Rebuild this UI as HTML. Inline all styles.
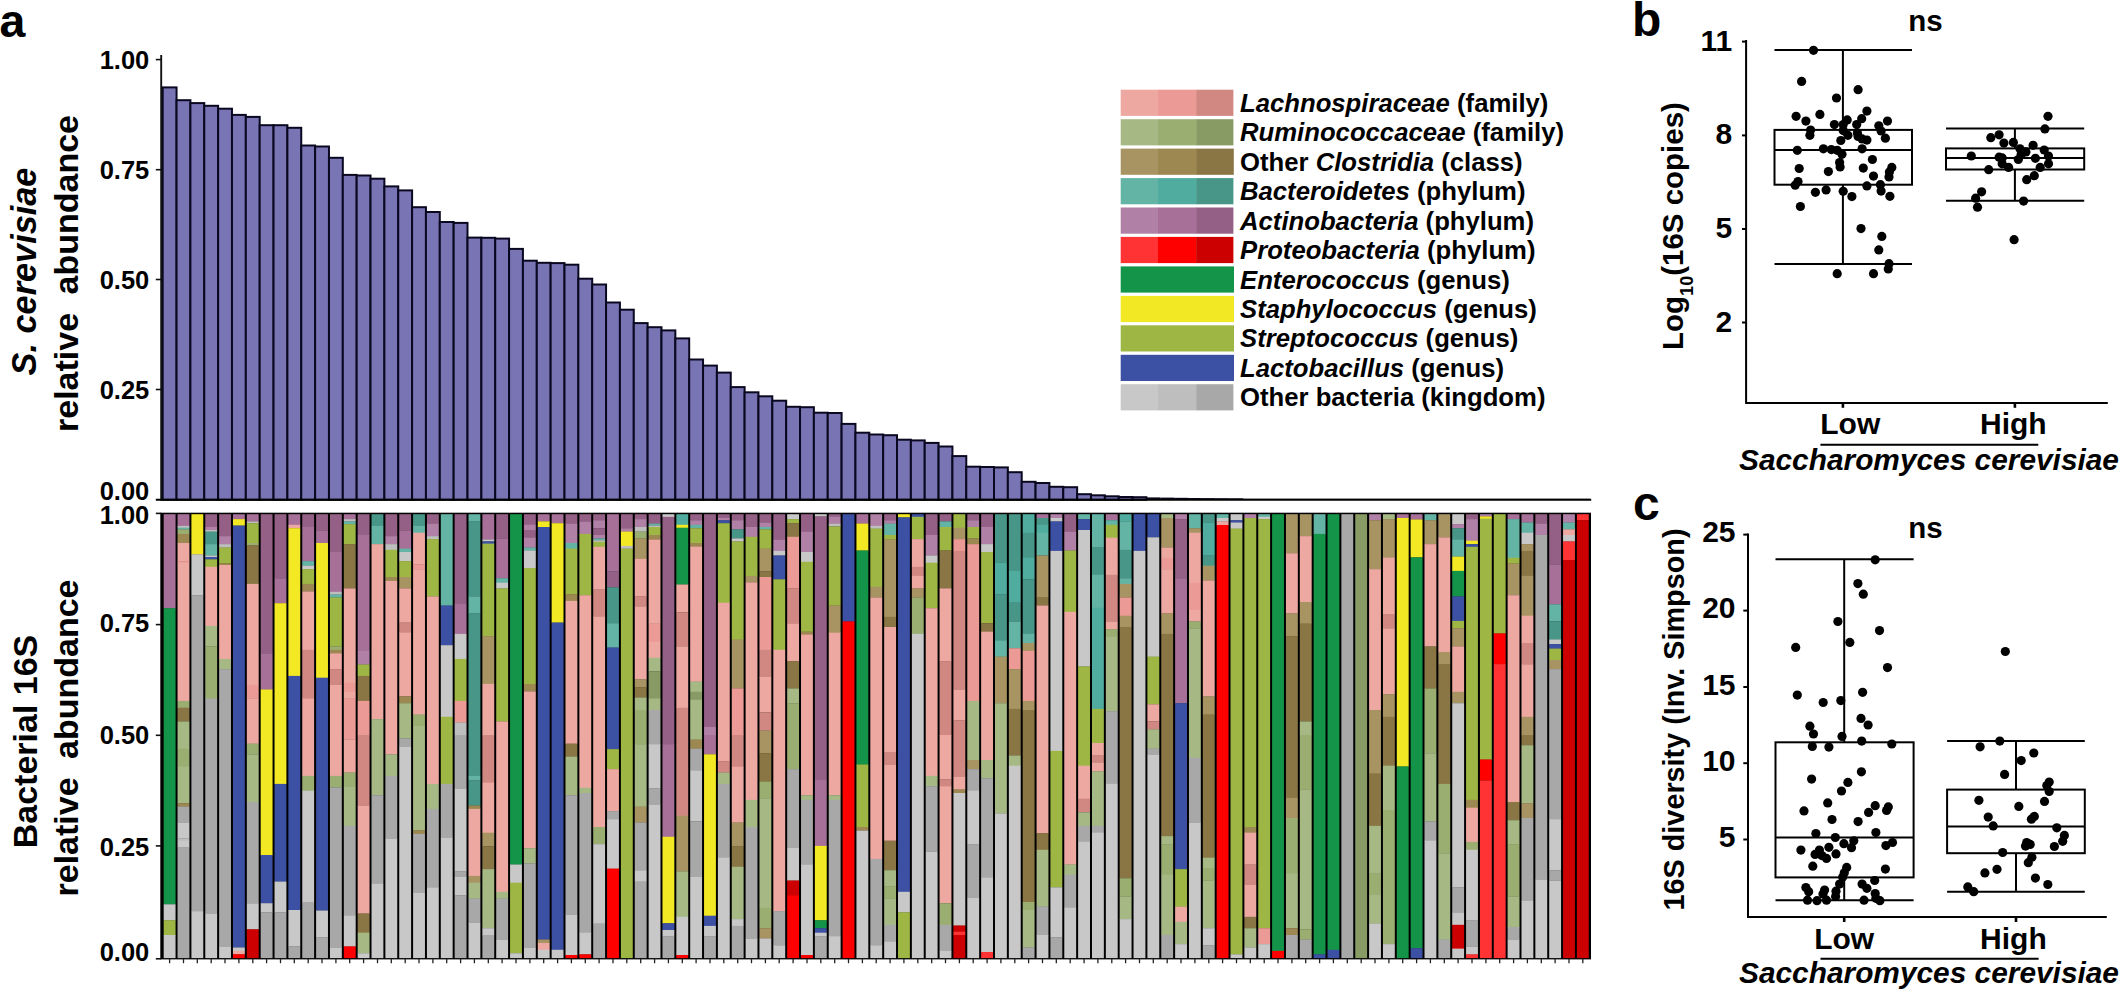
<!DOCTYPE html>
<html><head><meta charset="utf-8"><title>Figure</title>
<style>html,body{margin:0;padding:0;background:#fff}svg{display:block}</style></head>
<body>
<svg width="2119" height="990" viewBox="0 0 2119 990" font-family="Liberation Sans, Arial, sans-serif" font-weight="bold" fill="#000">
<rect width="2119" height="990" fill="#fff"/>
<g id="topbars">
<rect x="162.70" y="87.4" width="13.855" height="412.4" fill="#7974B4" stroke="#0a0820" stroke-width="2.0"/>
<rect x="176.55" y="100.2" width="13.855" height="399.6" fill="#7974B4" stroke="#0a0820" stroke-width="2.0"/>
<rect x="190.41" y="103.1" width="13.855" height="396.7" fill="#7974B4" stroke="#0a0820" stroke-width="2.0"/>
<rect x="204.26" y="105.8" width="13.855" height="394.0" fill="#7974B4" stroke="#0a0820" stroke-width="2.0"/>
<rect x="218.12" y="108.7" width="13.855" height="391.1" fill="#7974B4" stroke="#0a0820" stroke-width="2.0"/>
<rect x="231.97" y="114.9" width="13.855" height="384.9" fill="#7974B4" stroke="#0a0820" stroke-width="2.0"/>
<rect x="245.83" y="116.9" width="13.855" height="382.9" fill="#7974B4" stroke="#0a0820" stroke-width="2.0"/>
<rect x="259.69" y="125.2" width="13.855" height="374.6" fill="#7974B4" stroke="#0a0820" stroke-width="2.0"/>
<rect x="273.54" y="125.2" width="13.855" height="374.6" fill="#7974B4" stroke="#0a0820" stroke-width="2.0"/>
<rect x="287.39" y="127.8" width="13.855" height="372.0" fill="#7974B4" stroke="#0a0820" stroke-width="2.0"/>
<rect x="301.25" y="145.5" width="13.855" height="354.3" fill="#7974B4" stroke="#0a0820" stroke-width="2.0"/>
<rect x="315.11" y="146.5" width="13.855" height="353.3" fill="#7974B4" stroke="#0a0820" stroke-width="2.0"/>
<rect x="328.96" y="157.8" width="13.855" height="342.0" fill="#7974B4" stroke="#0a0820" stroke-width="2.0"/>
<rect x="342.81" y="174.9" width="13.855" height="324.9" fill="#7974B4" stroke="#0a0820" stroke-width="2.0"/>
<rect x="356.67" y="175.5" width="13.855" height="324.3" fill="#7974B4" stroke="#0a0820" stroke-width="2.0"/>
<rect x="370.52" y="178.7" width="13.855" height="321.1" fill="#7974B4" stroke="#0a0820" stroke-width="2.0"/>
<rect x="384.38" y="186.4" width="13.855" height="313.4" fill="#7974B4" stroke="#0a0820" stroke-width="2.0"/>
<rect x="398.24" y="190.4" width="13.855" height="309.4" fill="#7974B4" stroke="#0a0820" stroke-width="2.0"/>
<rect x="412.09" y="207.2" width="13.855" height="292.6" fill="#7974B4" stroke="#0a0820" stroke-width="2.0"/>
<rect x="425.94" y="212.0" width="13.855" height="287.8" fill="#7974B4" stroke="#0a0820" stroke-width="2.0"/>
<rect x="439.80" y="222.0" width="13.855" height="277.8" fill="#7974B4" stroke="#0a0820" stroke-width="2.0"/>
<rect x="453.65" y="222.9" width="13.855" height="276.9" fill="#7974B4" stroke="#0a0820" stroke-width="2.0"/>
<rect x="467.51" y="237.6" width="13.855" height="262.2" fill="#7974B4" stroke="#0a0820" stroke-width="2.0"/>
<rect x="481.37" y="237.8" width="13.855" height="262.0" fill="#7974B4" stroke="#0a0820" stroke-width="2.0"/>
<rect x="495.22" y="238.6" width="13.855" height="261.2" fill="#7974B4" stroke="#0a0820" stroke-width="2.0"/>
<rect x="509.07" y="248.9" width="13.855" height="250.9" fill="#7974B4" stroke="#0a0820" stroke-width="2.0"/>
<rect x="522.93" y="260.7" width="13.855" height="239.1" fill="#7974B4" stroke="#0a0820" stroke-width="2.0"/>
<rect x="536.79" y="262.8" width="13.855" height="237.0" fill="#7974B4" stroke="#0a0820" stroke-width="2.0"/>
<rect x="550.64" y="263.1" width="13.855" height="236.7" fill="#7974B4" stroke="#0a0820" stroke-width="2.0"/>
<rect x="564.50" y="264.7" width="13.855" height="235.1" fill="#7974B4" stroke="#0a0820" stroke-width="2.0"/>
<rect x="578.35" y="278.7" width="13.855" height="221.1" fill="#7974B4" stroke="#0a0820" stroke-width="2.0"/>
<rect x="592.20" y="284.5" width="13.855" height="215.3" fill="#7974B4" stroke="#0a0820" stroke-width="2.0"/>
<rect x="606.06" y="302.5" width="13.855" height="197.3" fill="#7974B4" stroke="#0a0820" stroke-width="2.0"/>
<rect x="619.91" y="309.7" width="13.855" height="190.1" fill="#7974B4" stroke="#0a0820" stroke-width="2.0"/>
<rect x="633.77" y="323.1" width="13.855" height="176.7" fill="#7974B4" stroke="#0a0820" stroke-width="2.0"/>
<rect x="647.62" y="327.2" width="13.855" height="172.6" fill="#7974B4" stroke="#0a0820" stroke-width="2.0"/>
<rect x="661.48" y="330.4" width="13.855" height="169.4" fill="#7974B4" stroke="#0a0820" stroke-width="2.0"/>
<rect x="675.34" y="338.4" width="13.855" height="161.4" fill="#7974B4" stroke="#0a0820" stroke-width="2.0"/>
<rect x="689.19" y="359.5" width="13.855" height="140.3" fill="#7974B4" stroke="#0a0820" stroke-width="2.0"/>
<rect x="703.05" y="365.6" width="13.855" height="134.2" fill="#7974B4" stroke="#0a0820" stroke-width="2.0"/>
<rect x="716.90" y="372.6" width="13.855" height="127.2" fill="#7974B4" stroke="#0a0820" stroke-width="2.0"/>
<rect x="730.76" y="387.1" width="13.855" height="112.7" fill="#7974B4" stroke="#0a0820" stroke-width="2.0"/>
<rect x="744.61" y="392.3" width="13.855" height="107.5" fill="#7974B4" stroke="#0a0820" stroke-width="2.0"/>
<rect x="758.46" y="396.3" width="13.855" height="103.5" fill="#7974B4" stroke="#0a0820" stroke-width="2.0"/>
<rect x="772.32" y="400.7" width="13.855" height="99.1" fill="#7974B4" stroke="#0a0820" stroke-width="2.0"/>
<rect x="786.17" y="406.8" width="13.855" height="93.0" fill="#7974B4" stroke="#0a0820" stroke-width="2.0"/>
<rect x="800.03" y="407.2" width="13.855" height="92.6" fill="#7974B4" stroke="#0a0820" stroke-width="2.0"/>
<rect x="813.88" y="412.7" width="13.855" height="87.1" fill="#7974B4" stroke="#0a0820" stroke-width="2.0"/>
<rect x="827.74" y="413.0" width="13.855" height="86.8" fill="#7974B4" stroke="#0a0820" stroke-width="2.0"/>
<rect x="841.60" y="423.9" width="13.855" height="75.9" fill="#7974B4" stroke="#0a0820" stroke-width="2.0"/>
<rect x="855.45" y="432.7" width="13.855" height="67.1" fill="#7974B4" stroke="#0a0820" stroke-width="2.0"/>
<rect x="869.31" y="434.5" width="13.855" height="65.3" fill="#7974B4" stroke="#0a0820" stroke-width="2.0"/>
<rect x="883.16" y="435.2" width="13.855" height="64.6" fill="#7974B4" stroke="#0a0820" stroke-width="2.0"/>
<rect x="897.02" y="439.7" width="13.855" height="60.1" fill="#7974B4" stroke="#0a0820" stroke-width="2.0"/>
<rect x="910.87" y="440.4" width="13.855" height="59.4" fill="#7974B4" stroke="#0a0820" stroke-width="2.0"/>
<rect x="924.72" y="442.9" width="13.855" height="56.9" fill="#7974B4" stroke="#0a0820" stroke-width="2.0"/>
<rect x="938.58" y="446.5" width="13.855" height="53.3" fill="#7974B4" stroke="#0a0820" stroke-width="2.0"/>
<rect x="952.43" y="456.1" width="13.855" height="43.7" fill="#7974B4" stroke="#0a0820" stroke-width="2.0"/>
<rect x="966.29" y="466.7" width="13.855" height="33.1" fill="#7974B4" stroke="#0a0820" stroke-width="2.0"/>
<rect x="980.14" y="467.0" width="13.855" height="32.8" fill="#7974B4" stroke="#0a0820" stroke-width="2.0"/>
<rect x="994.00" y="467.4" width="13.855" height="32.4" fill="#7974B4" stroke="#0a0820" stroke-width="2.0"/>
<rect x="1007.86" y="472.2" width="13.855" height="27.6" fill="#7974B4" stroke="#0a0820" stroke-width="2.0"/>
<rect x="1021.71" y="481.8" width="13.855" height="18.0" fill="#7974B4" stroke="#0a0820" stroke-width="2.0"/>
<rect x="1035.57" y="483.0" width="13.855" height="16.8" fill="#7974B4" stroke="#0a0820" stroke-width="2.0"/>
<rect x="1049.42" y="486.8" width="13.855" height="13.0" fill="#7974B4" stroke="#0a0820" stroke-width="2.0"/>
<rect x="1063.28" y="487.2" width="13.855" height="12.6" fill="#7974B4" stroke="#0a0820" stroke-width="2.0"/>
<rect x="1077.13" y="494.2" width="13.855" height="5.6" fill="#7974B4" stroke="#0a0820" stroke-width="2.0"/>
<rect x="1090.99" y="495.3" width="13.855" height="4.5" fill="#7974B4" stroke="#0a0820" stroke-width="2.0"/>
<rect x="1104.84" y="496.3" width="13.855" height="3.5" fill="#7974B4" stroke="#0a0820" stroke-width="2.0"/>
<rect x="1118.69" y="497.0" width="13.855" height="2.8" fill="#7974B4" stroke="#0a0820" stroke-width="2.0"/>
<rect x="1132.55" y="497.2" width="13.855" height="2.6" fill="#7974B4" stroke="#0a0820" stroke-width="2.0"/>
<rect x="1146.40" y="497.4" width="13.855" height="2.4" fill="#0a0820"/>
<rect x="1160.26" y="497.6" width="13.855" height="2.2" fill="#0a0820"/>
<rect x="1174.12" y="497.8" width="13.855" height="2.0" fill="#0a0820"/>
<rect x="1187.97" y="498.0" width="13.855" height="1.8" fill="#0a0820"/>
<rect x="1201.83" y="498.1" width="13.855" height="1.7" fill="#0a0820"/>
<rect x="1215.68" y="498.2" width="13.855" height="1.6" fill="#0a0820"/>
<rect x="1229.54" y="498.3" width="13.855" height="1.5" fill="#0a0820"/>
<rect x="1243.39" y="498.8" width="13.855" height="1.0" fill="#0a0820"/>
<rect x="1257.25" y="498.8" width="13.855" height="1.0" fill="#0a0820"/>
<rect x="1271.10" y="498.8" width="13.855" height="1.0" fill="#0a0820"/>
<rect x="1284.96" y="498.8" width="13.855" height="1.0" fill="#0a0820"/>
<rect x="1298.81" y="498.8" width="13.855" height="1.0" fill="#0a0820"/>
<rect x="1312.67" y="498.8" width="13.855" height="1.0" fill="#0a0820"/>
<rect x="1326.52" y="498.8" width="13.855" height="1.0" fill="#0a0820"/>
<rect x="1340.38" y="498.8" width="13.855" height="1.0" fill="#0a0820"/>
<rect x="1354.23" y="498.8" width="13.855" height="1.0" fill="#0a0820"/>
<rect x="1368.09" y="498.8" width="13.855" height="1.0" fill="#0a0820"/>
<rect x="1381.94" y="498.8" width="13.855" height="1.0" fill="#0a0820"/>
<rect x="1395.80" y="498.8" width="13.855" height="1.0" fill="#0a0820"/>
<rect x="1409.65" y="498.8" width="13.855" height="1.0" fill="#0a0820"/>
<rect x="1423.51" y="498.8" width="13.855" height="1.0" fill="#0a0820"/>
<rect x="1437.36" y="498.8" width="13.855" height="1.0" fill="#0a0820"/>
<rect x="1451.22" y="498.8" width="13.855" height="1.0" fill="#0a0820"/>
<rect x="1465.07" y="498.8" width="13.855" height="1.0" fill="#0a0820"/>
<rect x="1478.93" y="498.8" width="13.855" height="1.0" fill="#0a0820"/>
<rect x="1492.78" y="498.8" width="13.855" height="1.0" fill="#0a0820"/>
<rect x="1506.63" y="498.8" width="13.855" height="1.0" fill="#0a0820"/>
<rect x="1520.49" y="498.8" width="13.855" height="1.0" fill="#0a0820"/>
<rect x="1534.35" y="498.8" width="13.855" height="1.0" fill="#0a0820"/>
<rect x="1548.20" y="498.8" width="13.855" height="1.0" fill="#0a0820"/>
<rect x="1562.06" y="498.8" width="13.855" height="1.0" fill="#0a0820"/>
<rect x="1575.91" y="498.8" width="13.855" height="1.0" fill="#0a0820"/>
</g>
<line x1="161.2" y1="55" x2="161.2" y2="500.8" stroke="#111" stroke-width="1.9"/>
<line x1="155.8" y1="499.8" x2="1591.2" y2="499.8" stroke="#000" stroke-width="2.1"/>
<line x1="155.8" y1="59.6" x2="161.2" y2="59.6" stroke="#111" stroke-width="1.6"/>
<line x1="155.8" y1="169.7" x2="161.2" y2="169.7" stroke="#111" stroke-width="1.6"/>
<line x1="155.8" y1="279.5" x2="161.2" y2="279.5" stroke="#111" stroke-width="1.6"/>
<line x1="155.8" y1="389.5" x2="161.2" y2="389.5" stroke="#111" stroke-width="1.6"/>
<text x="149.3" y="68.7" font-size="25.5" text-anchor="end">1.00</text>
<text x="149.3" y="178.8" font-size="25.5" text-anchor="end">0.75</text>
<text x="149.3" y="288.6" font-size="25.5" text-anchor="end">0.50</text>
<text x="149.3" y="398.6" font-size="25.5" text-anchor="end">0.25</text>
<text x="149.3" y="500.4" font-size="25.5" text-anchor="end">0.00</text>
<rect x="160.3" y="512.7" width="1430.7" height="446.7" fill="#000"/>
<line x1="155.8" y1="513.4" x2="161" y2="513.4" stroke="#111" stroke-width="1.6"/>
<line x1="155.8" y1="958.8" x2="161" y2="958.8" stroke="#111" stroke-width="1.6"/>
<line x1="155.8" y1="624.6" x2="161" y2="624.6" stroke="#111" stroke-width="1.6"/>
<line x1="155.8" y1="735.3" x2="161" y2="735.3" stroke="#111" stroke-width="1.6"/>
<line x1="155.8" y1="845.9" x2="161" y2="845.9" stroke="#111" stroke-width="1.6"/>
<text x="149.3" y="524.4" font-size="25.5" text-anchor="end">1.00</text>
<text x="149.3" y="632.0" font-size="25.5" text-anchor="end">0.75</text>
<text x="149.3" y="743.5" font-size="25.5" text-anchor="end">0.50</text>
<text x="149.3" y="856.0" font-size="25.5" text-anchor="end">0.25</text>
<text x="149.3" y="960.6" font-size="25.5" text-anchor="end">0.00</text>
<g id="stack">
<rect x="163.70" y="514.2" width="11.86" height="94.3" fill="#A67098"/>
<rect x="163.70" y="608.2" width="11.86" height="296.4" fill="#149448"/>
<rect x="163.70" y="904.3" width="11.86" height="16.2" fill="#C8C8C8"/>
<rect x="163.70" y="920.2" width="11.86" height="15.1" fill="#9EB644"/>
<rect x="163.70" y="935.0" width="11.86" height="23.1" fill="#C8C8C8"/>
<rect x="177.55" y="514.2" width="11.86" height="12.0" fill="#A67098"/>
<rect x="177.55" y="525.9" width="11.86" height="2.1" fill="#BEBEBE"/>
<rect x="177.55" y="527.7" width="11.86" height="1.9" fill="#64B4A6"/>
<rect x="177.55" y="529.3" width="11.86" height="4.8" fill="#9BAE72"/>
<rect x="177.55" y="533.9" width="11.86" height="9.4" fill="#9E8852"/>
<rect x="177.55" y="543.0" width="11.86" height="18.5" fill="#EEA8A2"/>
<rect x="177.55" y="561.1" width="11.86" height="1.9" fill="#EC9A95"/>
<rect x="177.55" y="562.7" width="11.86" height="138.5" fill="#EEA8A2"/>
<rect x="177.55" y="700.9" width="11.86" height="7.1" fill="#9BAE72"/>
<rect x="177.55" y="707.7" width="11.86" height="13.9" fill="#8A7644"/>
<rect x="177.55" y="721.4" width="11.86" height="27.6" fill="#A6B984"/>
<rect x="177.55" y="748.6" width="11.86" height="18.5" fill="#9BAE72"/>
<rect x="177.55" y="766.8" width="11.86" height="36.7" fill="#A6B984"/>
<rect x="177.55" y="803.2" width="11.86" height="3.7" fill="#9E8852"/>
<rect x="177.55" y="806.6" width="11.86" height="16.2" fill="#A8A8A8"/>
<rect x="177.55" y="822.5" width="11.86" height="16.2" fill="#C8C8C8"/>
<rect x="177.55" y="838.4" width="11.86" height="2.6" fill="#BEBEBE"/>
<rect x="177.55" y="840.7" width="11.86" height="7.1" fill="#C8C8C8"/>
<rect x="177.55" y="847.5" width="11.86" height="110.6" fill="#A8A8A8"/>
<rect x="191.41" y="514.2" width="11.86" height="40.4" fill="#F2E824"/>
<rect x="191.41" y="554.3" width="11.86" height="41.2" fill="#C8C8C8"/>
<rect x="191.41" y="595.2" width="11.86" height="316.2" fill="#A8A8A8"/>
<rect x="191.41" y="911.1" width="11.86" height="47.0" fill="#C8C8C8"/>
<rect x="205.26" y="514.2" width="11.86" height="13.1" fill="#946086"/>
<rect x="205.26" y="527.0" width="11.86" height="3.3" fill="#B080A6"/>
<rect x="205.26" y="530.0" width="11.86" height="1.9" fill="#BEBEBE"/>
<rect x="205.26" y="531.6" width="11.86" height="12.8" fill="#489688"/>
<rect x="205.26" y="544.1" width="11.86" height="11.7" fill="#64B4A6"/>
<rect x="205.26" y="555.5" width="11.86" height="1.9" fill="#C8C8C8"/>
<rect x="205.26" y="557.0" width="11.86" height="2.6" fill="#3C50A4"/>
<rect x="205.26" y="559.3" width="11.86" height="7.8" fill="#9EB644"/>
<rect x="205.26" y="566.8" width="11.86" height="59.4" fill="#EEA8A2"/>
<rect x="205.26" y="625.9" width="11.86" height="20.8" fill="#A6B984"/>
<rect x="205.26" y="646.4" width="11.86" height="52.6" fill="#9BAE72"/>
<rect x="205.26" y="698.6" width="11.86" height="215.1" fill="#A8A8A8"/>
<rect x="205.26" y="913.4" width="11.86" height="44.7" fill="#C8C8C8"/>
<rect x="219.12" y="514.2" width="11.86" height="22.2" fill="#946086"/>
<rect x="219.12" y="536.1" width="11.86" height="8.3" fill="#B080A6"/>
<rect x="219.12" y="544.1" width="11.86" height="3.7" fill="#BEBEBE"/>
<rect x="219.12" y="547.5" width="11.86" height="16.2" fill="#9EB644"/>
<rect x="219.12" y="563.4" width="11.86" height="1.9" fill="#9E8852"/>
<rect x="219.12" y="565.0" width="11.86" height="94.2" fill="#EEA8A2"/>
<rect x="219.12" y="658.9" width="11.86" height="10.5" fill="#A6B984"/>
<rect x="219.12" y="669.1" width="11.86" height="277.6" fill="#A8A8A8"/>
<rect x="219.12" y="946.4" width="11.86" height="11.7" fill="#C8C8C8"/>
<rect x="232.97" y="514.2" width="11.86" height="5.2" fill="#A67098"/>
<rect x="232.97" y="519.1" width="11.86" height="6.7" fill="#F2E824"/>
<rect x="232.97" y="525.5" width="11.86" height="422.3" fill="#3C50A4"/>
<rect x="232.97" y="947.5" width="11.86" height="3.7" fill="#C8C8C8"/>
<rect x="232.97" y="950.9" width="11.86" height="3.7" fill="#EEA8A2"/>
<rect x="232.97" y="954.3" width="11.86" height="3.8" fill="#FF0000"/>
<rect x="246.83" y="514.2" width="11.86" height="7.5" fill="#A67098"/>
<rect x="246.83" y="521.4" width="11.86" height="2.1" fill="#BEBEBE"/>
<rect x="246.83" y="523.2" width="11.86" height="20.1" fill="#9EB644"/>
<rect x="246.83" y="543.0" width="11.86" height="2.6" fill="#9BAE72"/>
<rect x="246.83" y="545.2" width="11.86" height="38.9" fill="#8A7644"/>
<rect x="246.83" y="583.9" width="11.86" height="101.4" fill="#EEA8A2"/>
<rect x="246.83" y="685.0" width="11.86" height="13.9" fill="#EC9A95"/>
<rect x="246.83" y="698.6" width="11.86" height="45.3" fill="#EEA8A2"/>
<rect x="246.83" y="743.6" width="11.86" height="11.0" fill="#9BAE72"/>
<rect x="246.83" y="754.3" width="11.86" height="48.0" fill="#A6B984"/>
<rect x="246.83" y="802.0" width="11.86" height="101.4" fill="#A8A8A8"/>
<rect x="246.83" y="903.2" width="11.86" height="26.4" fill="#C8C8C8"/>
<rect x="246.83" y="929.3" width="11.86" height="28.8" fill="#CC0000"/>
<rect x="260.69" y="514.2" width="11.86" height="139.3" fill="#946086"/>
<rect x="260.69" y="653.2" width="11.86" height="36.7" fill="#A67098"/>
<rect x="260.69" y="689.5" width="11.86" height="165.8" fill="#F2E824"/>
<rect x="260.69" y="855.0" width="11.86" height="48.5" fill="#3C50A4"/>
<rect x="260.69" y="903.2" width="11.86" height="9.4" fill="#C8C8C8"/>
<rect x="260.69" y="912.3" width="11.86" height="45.8" fill="#A8A8A8"/>
<rect x="274.54" y="514.2" width="11.86" height="64.3" fill="#946086"/>
<rect x="274.54" y="578.2" width="11.86" height="25.3" fill="#A67098"/>
<rect x="274.54" y="603.2" width="11.86" height="181.0" fill="#F2E824"/>
<rect x="274.54" y="783.9" width="11.86" height="98.0" fill="#3C50A4"/>
<rect x="274.54" y="881.6" width="11.86" height="31.0" fill="#C8C8C8"/>
<rect x="274.54" y="912.3" width="11.86" height="45.8" fill="#A8A8A8"/>
<rect x="288.39" y="514.2" width="11.86" height="10.9" fill="#A67098"/>
<rect x="288.39" y="524.8" width="11.86" height="3.7" fill="#EEA8A2"/>
<rect x="288.39" y="528.2" width="11.86" height="148.0" fill="#F2E824"/>
<rect x="288.39" y="675.9" width="11.86" height="234.4" fill="#3C50A4"/>
<rect x="288.39" y="910.0" width="11.86" height="36.7" fill="#C8C8C8"/>
<rect x="288.39" y="946.4" width="11.86" height="11.7" fill="#A8A8A8"/>
<rect x="302.25" y="514.2" width="11.86" height="13.1" fill="#946086"/>
<rect x="302.25" y="527.0" width="11.86" height="34.4" fill="#A67098"/>
<rect x="302.25" y="561.1" width="11.86" height="4.8" fill="#64B4A6"/>
<rect x="302.25" y="565.7" width="11.86" height="3.7" fill="#C8C8C8"/>
<rect x="302.25" y="569.1" width="11.86" height="15.1" fill="#9EB644"/>
<rect x="302.25" y="583.9" width="11.86" height="7.8" fill="#9E8852"/>
<rect x="302.25" y="591.4" width="11.86" height="58.7" fill="#EEA8A2"/>
<rect x="302.25" y="649.8" width="11.86" height="49.2" fill="#D28882"/>
<rect x="302.25" y="698.6" width="11.86" height="77.6" fill="#EEA8A2"/>
<rect x="302.25" y="775.9" width="11.86" height="15.1" fill="#9BAE72"/>
<rect x="302.25" y="790.7" width="11.86" height="111.7" fill="#C8C8C8"/>
<rect x="302.25" y="902.0" width="11.86" height="56.1" fill="#A8A8A8"/>
<rect x="316.11" y="514.2" width="11.86" height="16.6" fill="#946086"/>
<rect x="316.11" y="530.5" width="11.86" height="12.8" fill="#A67098"/>
<rect x="316.11" y="543.0" width="11.86" height="135.1" fill="#F2E824"/>
<rect x="316.11" y="677.7" width="11.86" height="233.0" fill="#3C50A4"/>
<rect x="316.11" y="910.5" width="11.86" height="27.1" fill="#C8C8C8"/>
<rect x="316.11" y="937.3" width="11.86" height="20.8" fill="#A8A8A8"/>
<rect x="329.96" y="514.2" width="11.86" height="38.1" fill="#946086"/>
<rect x="329.96" y="552.0" width="11.86" height="40.1" fill="#A67098"/>
<rect x="329.96" y="591.8" width="11.86" height="3.0" fill="#BEBEBE"/>
<rect x="329.96" y="594.5" width="11.86" height="3.3" fill="#64B4A6"/>
<rect x="329.96" y="597.5" width="11.86" height="49.2" fill="#9EB644"/>
<rect x="329.96" y="646.4" width="11.86" height="3.7" fill="#9BAE72"/>
<rect x="329.96" y="649.8" width="11.86" height="3.7" fill="#9E8852"/>
<rect x="329.96" y="653.2" width="11.86" height="16.2" fill="#EEA8A2"/>
<rect x="329.96" y="669.1" width="11.86" height="16.2" fill="#D28882"/>
<rect x="329.96" y="685.0" width="11.86" height="91.2" fill="#EEA8A2"/>
<rect x="329.96" y="775.9" width="11.86" height="11.7" fill="#9BAE72"/>
<rect x="329.96" y="787.3" width="11.86" height="160.5" fill="#A8A8A8"/>
<rect x="329.96" y="947.5" width="11.86" height="10.6" fill="#C8C8C8"/>
<rect x="343.81" y="514.2" width="11.86" height="5.2" fill="#A67098"/>
<rect x="343.81" y="519.1" width="11.86" height="2.6" fill="#BEBEBE"/>
<rect x="343.81" y="521.4" width="11.86" height="3.0" fill="#64B4A6"/>
<rect x="343.81" y="524.1" width="11.86" height="20.3" fill="#9EB644"/>
<rect x="343.81" y="544.1" width="11.86" height="44.6" fill="#8A7644"/>
<rect x="343.81" y="588.4" width="11.86" height="94.6" fill="#EEA8A2"/>
<rect x="343.81" y="682.7" width="11.86" height="9.4" fill="#EC9A95"/>
<rect x="343.81" y="691.8" width="11.86" height="7.1" fill="#EEA8A2"/>
<rect x="343.81" y="698.6" width="11.86" height="41.2" fill="#EC9A95"/>
<rect x="343.81" y="739.5" width="11.86" height="33.3" fill="#EEA8A2"/>
<rect x="343.81" y="772.5" width="11.86" height="13.9" fill="#9BAE72"/>
<rect x="343.81" y="786.1" width="11.86" height="40.1" fill="#A6B984"/>
<rect x="343.81" y="825.9" width="11.86" height="90.1" fill="#A8A8A8"/>
<rect x="343.81" y="915.7" width="11.86" height="31.0" fill="#C8C8C8"/>
<rect x="343.81" y="946.4" width="11.86" height="11.7" fill="#FF0000"/>
<rect x="357.67" y="514.2" width="11.86" height="21.1" fill="#946086"/>
<rect x="357.67" y="535.0" width="11.86" height="116.2" fill="#A67098"/>
<rect x="357.67" y="650.9" width="11.86" height="13.9" fill="#B080A6"/>
<rect x="357.67" y="664.5" width="11.86" height="11.7" fill="#9EB644"/>
<rect x="357.67" y="675.9" width="11.86" height="25.3" fill="#8A7644"/>
<rect x="357.67" y="700.9" width="11.86" height="34.4" fill="#EC9A95"/>
<rect x="357.67" y="735.0" width="11.86" height="70.8" fill="#D28882"/>
<rect x="357.67" y="805.5" width="11.86" height="108.3" fill="#EEA8A2"/>
<rect x="357.67" y="913.4" width="11.86" height="19.6" fill="#8A7644"/>
<rect x="357.67" y="932.7" width="11.86" height="20.8" fill="#A6B984"/>
<rect x="357.67" y="953.2" width="11.86" height="4.9" fill="#C8C8C8"/>
<rect x="371.52" y="514.2" width="11.86" height="12.0" fill="#489688"/>
<rect x="371.52" y="525.9" width="11.86" height="18.5" fill="#64B4A6"/>
<rect x="371.52" y="544.1" width="11.86" height="175.3" fill="#EEA8A2"/>
<rect x="371.52" y="719.1" width="11.86" height="76.4" fill="#A6B984"/>
<rect x="371.52" y="795.2" width="11.86" height="88.9" fill="#A8A8A8"/>
<rect x="371.52" y="883.9" width="11.86" height="74.2" fill="#C8C8C8"/>
<rect x="385.38" y="514.2" width="11.86" height="22.2" fill="#946086"/>
<rect x="385.38" y="536.1" width="11.86" height="8.3" fill="#B080A6"/>
<rect x="385.38" y="544.1" width="11.86" height="6.0" fill="#BEBEBE"/>
<rect x="385.38" y="549.8" width="11.86" height="27.6" fill="#9EB644"/>
<rect x="385.38" y="577.0" width="11.86" height="4.2" fill="#9E8852"/>
<rect x="385.38" y="580.9" width="11.86" height="173.7" fill="#EEA8A2"/>
<rect x="385.38" y="754.3" width="11.86" height="21.9" fill="#A6B984"/>
<rect x="385.38" y="775.9" width="11.86" height="62.8" fill="#A8A8A8"/>
<rect x="385.38" y="838.4" width="11.86" height="119.7" fill="#C8C8C8"/>
<rect x="399.24" y="514.2" width="11.86" height="16.6" fill="#946086"/>
<rect x="399.24" y="530.5" width="11.86" height="18.5" fill="#A67098"/>
<rect x="399.24" y="548.6" width="11.86" height="3.7" fill="#64B4A6"/>
<rect x="399.24" y="552.0" width="11.86" height="9.4" fill="#C8C8C8"/>
<rect x="399.24" y="561.1" width="11.86" height="16.2" fill="#9EB644"/>
<rect x="399.24" y="577.0" width="11.86" height="11.7" fill="#A89462"/>
<rect x="399.24" y="588.4" width="11.86" height="34.4" fill="#EEA8A2"/>
<rect x="399.24" y="622.5" width="11.86" height="10.5" fill="#D28882"/>
<rect x="399.24" y="632.7" width="11.86" height="63.9" fill="#EEA8A2"/>
<rect x="399.24" y="696.4" width="11.86" height="7.1" fill="#9E8852"/>
<rect x="399.24" y="703.2" width="11.86" height="35.5" fill="#A6B984"/>
<rect x="399.24" y="738.4" width="11.86" height="8.3" fill="#A8A8A8"/>
<rect x="399.24" y="746.4" width="11.86" height="211.7" fill="#C8C8C8"/>
<rect x="413.09" y="514.2" width="11.86" height="12.0" fill="#489688"/>
<rect x="413.09" y="525.9" width="11.86" height="7.1" fill="#64B4A6"/>
<rect x="413.09" y="532.7" width="11.86" height="32.1" fill="#EEA8A2"/>
<rect x="413.09" y="564.5" width="11.86" height="4.8" fill="#EC9A95"/>
<rect x="413.09" y="569.1" width="11.86" height="145.8" fill="#EEA8A2"/>
<rect x="413.09" y="714.5" width="11.86" height="11.7" fill="#9BAE72"/>
<rect x="413.09" y="725.9" width="11.86" height="104.8" fill="#A6B984"/>
<rect x="413.09" y="830.5" width="11.86" height="3.7" fill="#9E8852"/>
<rect x="413.09" y="833.9" width="11.86" height="59.4" fill="#A8A8A8"/>
<rect x="413.09" y="893.0" width="11.86" height="65.1" fill="#C8C8C8"/>
<rect x="426.94" y="514.2" width="11.86" height="9.7" fill="#946086"/>
<rect x="426.94" y="523.6" width="11.86" height="12.8" fill="#B080A6"/>
<rect x="426.94" y="536.1" width="11.86" height="3.3" fill="#BEBEBE"/>
<rect x="426.94" y="539.1" width="11.86" height="57.6" fill="#9EB644"/>
<rect x="426.94" y="596.4" width="11.86" height="187.8" fill="#EEA8A2"/>
<rect x="426.94" y="783.9" width="11.86" height="25.3" fill="#A6B984"/>
<rect x="426.94" y="808.9" width="11.86" height="79.2" fill="#A8A8A8"/>
<rect x="426.94" y="887.7" width="11.86" height="70.4" fill="#C8C8C8"/>
<rect x="440.80" y="514.2" width="11.86" height="91.6" fill="#64B4A6"/>
<rect x="440.80" y="605.5" width="11.86" height="40.1" fill="#3C50A4"/>
<rect x="440.80" y="645.2" width="11.86" height="71.9" fill="#C8C8C8"/>
<rect x="440.80" y="716.8" width="11.86" height="67.3" fill="#9EB644"/>
<rect x="440.80" y="783.9" width="11.86" height="53.7" fill="#A8A8A8"/>
<rect x="440.80" y="837.3" width="11.86" height="120.8" fill="#C8C8C8"/>
<rect x="454.65" y="514.2" width="11.86" height="89.3" fill="#946086"/>
<rect x="454.65" y="603.2" width="11.86" height="31.0" fill="#A67098"/>
<rect x="454.65" y="633.9" width="11.86" height="25.3" fill="#C8C8C8"/>
<rect x="454.65" y="658.9" width="11.86" height="42.3" fill="#9EB644"/>
<rect x="454.65" y="700.9" width="11.86" height="21.9" fill="#EC9A95"/>
<rect x="454.65" y="722.5" width="11.86" height="12.8" fill="#BEBEBE"/>
<rect x="454.65" y="735.0" width="11.86" height="53.7" fill="#A8A8A8"/>
<rect x="454.65" y="788.4" width="11.86" height="83.3" fill="#C8C8C8"/>
<rect x="454.65" y="871.4" width="11.86" height="6.0" fill="#A8A8A8"/>
<rect x="454.65" y="877.0" width="11.86" height="18.5" fill="#C8C8C8"/>
<rect x="454.65" y="895.2" width="11.86" height="62.9" fill="#A8A8A8"/>
<rect x="468.51" y="514.2" width="11.86" height="7.5" fill="#64B4A6"/>
<rect x="468.51" y="521.4" width="11.86" height="75.3" fill="#489688"/>
<rect x="468.51" y="596.4" width="11.86" height="17.3" fill="#64B4A6"/>
<rect x="468.51" y="613.4" width="11.86" height="162.8" fill="#489688"/>
<rect x="468.51" y="775.9" width="11.86" height="4.8" fill="#64B4A6"/>
<rect x="468.51" y="780.5" width="11.86" height="25.3" fill="#489688"/>
<rect x="468.51" y="805.5" width="11.86" height="3.7" fill="#9E8852"/>
<rect x="468.51" y="808.9" width="11.86" height="67.3" fill="#EEA8A2"/>
<rect x="468.51" y="875.9" width="11.86" height="7.1" fill="#A89462"/>
<rect x="468.51" y="882.7" width="11.86" height="16.2" fill="#A6B984"/>
<rect x="468.51" y="898.6" width="11.86" height="24.2" fill="#A8A8A8"/>
<rect x="468.51" y="922.5" width="11.86" height="35.6" fill="#C8C8C8"/>
<rect x="482.37" y="514.2" width="11.86" height="25.6" fill="#A67098"/>
<rect x="482.37" y="539.5" width="11.86" height="2.1" fill="#C8C8C8"/>
<rect x="482.37" y="541.4" width="11.86" height="2.6" fill="#3C50A4"/>
<rect x="482.37" y="543.6" width="11.86" height="92.8" fill="#9EB644"/>
<rect x="482.37" y="636.1" width="11.86" height="48.0" fill="#A89462"/>
<rect x="482.37" y="683.9" width="11.86" height="51.4" fill="#EEA8A2"/>
<rect x="482.37" y="735.0" width="11.86" height="48.0" fill="#D28882"/>
<rect x="482.37" y="782.7" width="11.86" height="50.3" fill="#EEA8A2"/>
<rect x="482.37" y="832.7" width="11.86" height="13.9" fill="#A89462"/>
<rect x="482.37" y="846.4" width="11.86" height="23.0" fill="#8A7644"/>
<rect x="482.37" y="869.1" width="11.86" height="59.4" fill="#A6B984"/>
<rect x="482.37" y="928.2" width="11.86" height="7.1" fill="#C8C8C8"/>
<rect x="482.37" y="935.0" width="11.86" height="23.1" fill="#A8A8A8"/>
<rect x="496.22" y="514.2" width="11.86" height="24.5" fill="#946086"/>
<rect x="496.22" y="538.4" width="11.86" height="40.1" fill="#A67098"/>
<rect x="496.22" y="578.2" width="11.86" height="4.8" fill="#64B4A6"/>
<rect x="496.22" y="582.7" width="11.86" height="6.0" fill="#C8C8C8"/>
<rect x="496.22" y="588.4" width="11.86" height="133.3" fill="#9EB644"/>
<rect x="496.22" y="721.4" width="11.86" height="170.8" fill="#EEA8A2"/>
<rect x="496.22" y="891.8" width="11.86" height="7.1" fill="#A6B984"/>
<rect x="496.22" y="898.6" width="11.86" height="41.2" fill="#A8A8A8"/>
<rect x="496.22" y="939.5" width="11.86" height="18.6" fill="#C8C8C8"/>
<rect x="510.07" y="514.2" width="11.86" height="350.6" fill="#149448"/>
<rect x="510.07" y="864.5" width="11.86" height="18.5" fill="#C8C8C8"/>
<rect x="510.07" y="882.7" width="11.86" height="70.8" fill="#9EB644"/>
<rect x="510.07" y="953.2" width="11.86" height="4.9" fill="#C8C8C8"/>
<rect x="523.93" y="514.2" width="11.86" height="10.9" fill="#946086"/>
<rect x="523.93" y="524.8" width="11.86" height="6.0" fill="#B080A6"/>
<rect x="523.93" y="530.5" width="11.86" height="7.1" fill="#946086"/>
<rect x="523.93" y="537.3" width="11.86" height="10.5" fill="#B080A6"/>
<rect x="523.93" y="547.5" width="11.86" height="3.3" fill="#64B4A6"/>
<rect x="523.93" y="550.5" width="11.86" height="17.8" fill="#C8C8C8"/>
<rect x="523.93" y="568.0" width="11.86" height="116.2" fill="#9EB644"/>
<rect x="523.93" y="683.9" width="11.86" height="7.8" fill="#9E8852"/>
<rect x="523.93" y="691.4" width="11.86" height="157.1" fill="#EEA8A2"/>
<rect x="523.93" y="848.2" width="11.86" height="15.5" fill="#A6B984"/>
<rect x="523.93" y="863.4" width="11.86" height="84.4" fill="#A8A8A8"/>
<rect x="523.93" y="947.5" width="11.86" height="10.6" fill="#C8C8C8"/>
<rect x="537.79" y="514.2" width="11.86" height="7.5" fill="#A67098"/>
<rect x="537.79" y="521.4" width="11.86" height="6.0" fill="#F2E824"/>
<rect x="537.79" y="527.0" width="11.86" height="412.8" fill="#3C50A4"/>
<rect x="537.79" y="939.5" width="11.86" height="3.7" fill="#A89462"/>
<rect x="537.79" y="943.0" width="11.86" height="7.1" fill="#EEA8A2"/>
<rect x="537.79" y="949.8" width="11.86" height="8.3" fill="#C8C8C8"/>
<rect x="551.64" y="514.2" width="11.86" height="9.3" fill="#A67098"/>
<rect x="551.64" y="523.2" width="11.86" height="99.6" fill="#F2E824"/>
<rect x="551.64" y="622.5" width="11.86" height="327.6" fill="#3C50A4"/>
<rect x="551.64" y="949.8" width="11.86" height="8.3" fill="#C8C8C8"/>
<rect x="565.50" y="514.2" width="11.86" height="9.7" fill="#946086"/>
<rect x="565.50" y="523.6" width="11.86" height="19.6" fill="#B080A6"/>
<rect x="565.50" y="543.0" width="11.86" height="6.0" fill="#64B4A6"/>
<rect x="565.50" y="548.6" width="11.86" height="45.8" fill="#9EB644"/>
<rect x="565.50" y="594.1" width="11.86" height="7.1" fill="#9E8852"/>
<rect x="565.50" y="600.9" width="11.86" height="143.0" fill="#EEA8A2"/>
<rect x="565.50" y="743.6" width="11.86" height="13.3" fill="#8A7644"/>
<rect x="565.50" y="756.6" width="11.86" height="38.9" fill="#A6B984"/>
<rect x="565.50" y="795.2" width="11.86" height="119.6" fill="#A8A8A8"/>
<rect x="565.50" y="914.5" width="11.86" height="40.8" fill="#C8C8C8"/>
<rect x="565.50" y="955.0" width="11.86" height="3.1" fill="#FF0000"/>
<rect x="579.35" y="514.2" width="11.86" height="7.5" fill="#946086"/>
<rect x="579.35" y="521.4" width="11.86" height="12.8" fill="#B080A6"/>
<rect x="579.35" y="533.9" width="11.86" height="61.7" fill="#9EB644"/>
<rect x="579.35" y="595.2" width="11.86" height="192.8" fill="#EEA8A2"/>
<rect x="579.35" y="787.7" width="11.86" height="5.5" fill="#A6B984"/>
<rect x="579.35" y="793.0" width="11.86" height="140.1" fill="#A8A8A8"/>
<rect x="579.35" y="932.7" width="11.86" height="21.9" fill="#C8C8C8"/>
<rect x="579.35" y="954.3" width="11.86" height="3.8" fill="#FF0000"/>
<rect x="593.20" y="514.2" width="11.86" height="6.3" fill="#946086"/>
<rect x="593.20" y="520.2" width="11.86" height="8.3" fill="#B080A6"/>
<rect x="593.20" y="528.2" width="11.86" height="7.1" fill="#946086"/>
<rect x="593.20" y="535.0" width="11.86" height="3.7" fill="#B080A6"/>
<rect x="593.20" y="538.4" width="11.86" height="2.1" fill="#64B4A6"/>
<rect x="593.20" y="540.2" width="11.86" height="1.9" fill="#BEBEBE"/>
<rect x="593.20" y="541.8" width="11.86" height="5.3" fill="#9EB644"/>
<rect x="593.20" y="546.8" width="11.86" height="43.0" fill="#EEA8A2"/>
<rect x="593.20" y="589.5" width="11.86" height="27.6" fill="#D28882"/>
<rect x="593.20" y="616.8" width="11.86" height="210.5" fill="#EEA8A2"/>
<rect x="593.20" y="827.0" width="11.86" height="17.3" fill="#9BAE72"/>
<rect x="593.20" y="844.1" width="11.86" height="79.8" fill="#C8C8C8"/>
<rect x="593.20" y="923.6" width="11.86" height="34.5" fill="#A8A8A8"/>
<rect x="607.06" y="514.2" width="11.86" height="57.5" fill="#A67098"/>
<rect x="607.06" y="571.4" width="11.86" height="16.2" fill="#946086"/>
<rect x="607.06" y="587.3" width="11.86" height="36.7" fill="#489688"/>
<rect x="607.06" y="623.6" width="11.86" height="24.2" fill="#64B4A6"/>
<rect x="607.06" y="647.5" width="11.86" height="101.9" fill="#3C50A4"/>
<rect x="607.06" y="749.1" width="11.86" height="20.3" fill="#9EB644"/>
<rect x="607.06" y="769.1" width="11.86" height="42.3" fill="#EEA8A2"/>
<rect x="607.06" y="811.1" width="11.86" height="8.3" fill="#A8A8A8"/>
<rect x="607.06" y="819.1" width="11.86" height="49.8" fill="#C8C8C8"/>
<rect x="607.06" y="868.6" width="11.86" height="89.5" fill="#FF0000"/>
<rect x="620.91" y="514.2" width="11.86" height="14.3" fill="#946086"/>
<rect x="620.91" y="528.2" width="11.86" height="3.7" fill="#B080A6"/>
<rect x="620.91" y="531.6" width="11.86" height="14.6" fill="#F2E824"/>
<rect x="620.91" y="545.9" width="11.86" height="3.0" fill="#BEBEBE"/>
<rect x="620.91" y="548.6" width="11.86" height="409.5" fill="#9EB644"/>
<rect x="634.77" y="514.2" width="11.86" height="5.2" fill="#946086"/>
<rect x="634.77" y="519.1" width="11.86" height="8.3" fill="#B080A6"/>
<rect x="634.77" y="527.0" width="11.86" height="4.8" fill="#BEBEBE"/>
<rect x="634.77" y="531.6" width="11.86" height="7.1" fill="#9BAE72"/>
<rect x="634.77" y="538.4" width="11.86" height="20.8" fill="#A89462"/>
<rect x="634.77" y="558.9" width="11.86" height="37.8" fill="#EEA8A2"/>
<rect x="634.77" y="596.4" width="11.86" height="10.5" fill="#D28882"/>
<rect x="634.77" y="606.6" width="11.86" height="73.0" fill="#EEA8A2"/>
<rect x="634.77" y="679.3" width="11.86" height="8.3" fill="#A89462"/>
<rect x="634.77" y="687.3" width="11.86" height="10.5" fill="#8A7644"/>
<rect x="634.77" y="697.5" width="11.86" height="12.8" fill="#A6B984"/>
<rect x="634.77" y="710.0" width="11.86" height="34.4" fill="#9BAE72"/>
<rect x="634.77" y="744.1" width="11.86" height="62.8" fill="#A6B984"/>
<rect x="634.77" y="806.6" width="11.86" height="16.2" fill="#A89462"/>
<rect x="634.77" y="822.5" width="11.86" height="48.0" fill="#A8A8A8"/>
<rect x="634.77" y="870.2" width="11.86" height="11.7" fill="#C8C8C8"/>
<rect x="634.77" y="881.6" width="11.86" height="76.5" fill="#A8A8A8"/>
<rect x="648.62" y="514.2" width="11.86" height="9.7" fill="#946086"/>
<rect x="648.62" y="523.6" width="11.86" height="2.1" fill="#64B4A6"/>
<rect x="648.62" y="525.5" width="11.86" height="1.9" fill="#BEBEBE"/>
<rect x="648.62" y="527.0" width="11.86" height="8.3" fill="#9EB644"/>
<rect x="648.62" y="535.0" width="11.86" height="4.8" fill="#9E8852"/>
<rect x="648.62" y="539.5" width="11.86" height="84.4" fill="#EEA8A2"/>
<rect x="648.62" y="623.6" width="11.86" height="18.5" fill="#EC9A95"/>
<rect x="648.62" y="641.8" width="11.86" height="16.2" fill="#EEA8A2"/>
<rect x="648.62" y="657.7" width="11.86" height="13.9" fill="#A6B984"/>
<rect x="648.62" y="671.4" width="11.86" height="27.6" fill="#899B64"/>
<rect x="648.62" y="698.6" width="11.86" height="11.7" fill="#A6B984"/>
<rect x="648.62" y="710.0" width="11.86" height="34.4" fill="#A8A8A8"/>
<rect x="648.62" y="744.1" width="11.86" height="44.6" fill="#C8C8C8"/>
<rect x="648.62" y="788.4" width="11.86" height="16.2" fill="#A8A8A8"/>
<rect x="648.62" y="804.3" width="11.86" height="153.8" fill="#C8C8C8"/>
<rect x="662.48" y="514.2" width="11.86" height="2.9" fill="#C8C8C8"/>
<rect x="662.48" y="516.8" width="11.86" height="227.6" fill="#946086"/>
<rect x="662.48" y="744.1" width="11.86" height="93.0" fill="#A67098"/>
<rect x="662.48" y="836.8" width="11.86" height="86.7" fill="#F2E824"/>
<rect x="662.48" y="923.2" width="11.86" height="7.1" fill="#3C50A4"/>
<rect x="662.48" y="930.0" width="11.86" height="6.4" fill="#C8C8C8"/>
<rect x="662.48" y="936.1" width="11.86" height="22.0" fill="#A8A8A8"/>
<rect x="676.34" y="514.2" width="11.86" height="10.9" fill="#50AC9E"/>
<rect x="676.34" y="524.8" width="11.86" height="3.3" fill="#F2E824"/>
<rect x="676.34" y="527.7" width="11.86" height="57.1" fill="#149448"/>
<rect x="676.34" y="584.5" width="11.86" height="28.0" fill="#EEA8A2"/>
<rect x="676.34" y="612.3" width="11.86" height="34.4" fill="#D28882"/>
<rect x="676.34" y="646.4" width="11.86" height="61.7" fill="#EEA8A2"/>
<rect x="676.34" y="707.7" width="11.86" height="108.3" fill="#D28882"/>
<rect x="676.34" y="815.7" width="11.86" height="56.0" fill="#A89462"/>
<rect x="676.34" y="871.4" width="11.86" height="45.8" fill="#A6B984"/>
<rect x="676.34" y="916.8" width="11.86" height="38.5" fill="#C8C8C8"/>
<rect x="676.34" y="955.0" width="11.86" height="3.1" fill="#FF0000"/>
<rect x="690.19" y="514.2" width="11.86" height="6.3" fill="#946086"/>
<rect x="690.19" y="520.2" width="11.86" height="4.8" fill="#B080A6"/>
<rect x="690.19" y="524.8" width="11.86" height="3.7" fill="#64B4A6"/>
<rect x="690.19" y="528.2" width="11.86" height="15.1" fill="#9EB644"/>
<rect x="690.19" y="543.0" width="11.86" height="3.7" fill="#9E8852"/>
<rect x="690.19" y="546.4" width="11.86" height="135.5" fill="#EEA8A2"/>
<rect x="690.19" y="681.6" width="11.86" height="10.5" fill="#A6B984"/>
<rect x="690.19" y="691.8" width="11.86" height="8.3" fill="#899B64"/>
<rect x="690.19" y="699.8" width="11.86" height="40.1" fill="#A6B984"/>
<rect x="690.19" y="739.5" width="11.86" height="9.4" fill="#9E8852"/>
<rect x="690.19" y="748.6" width="11.86" height="21.9" fill="#A8A8A8"/>
<rect x="690.19" y="770.2" width="11.86" height="51.4" fill="#C8C8C8"/>
<rect x="690.19" y="821.4" width="11.86" height="56.0" fill="#A8A8A8"/>
<rect x="690.19" y="877.0" width="11.86" height="81.1" fill="#C8C8C8"/>
<rect x="704.05" y="514.2" width="11.86" height="213.1" fill="#946086"/>
<rect x="704.05" y="727.0" width="11.86" height="8.3" fill="#B080A6"/>
<rect x="704.05" y="735.0" width="11.86" height="19.6" fill="#A67098"/>
<rect x="704.05" y="754.3" width="11.86" height="161.7" fill="#F2E824"/>
<rect x="704.05" y="915.7" width="11.86" height="10.5" fill="#3C50A4"/>
<rect x="704.05" y="925.9" width="11.86" height="10.5" fill="#C8C8C8"/>
<rect x="704.05" y="936.1" width="11.86" height="22.0" fill="#A8A8A8"/>
<rect x="717.90" y="514.2" width="11.86" height="4.1" fill="#946086"/>
<rect x="717.90" y="518.0" width="11.86" height="2.6" fill="#B080A6"/>
<rect x="717.90" y="520.2" width="11.86" height="3.3" fill="#3C50A4"/>
<rect x="717.90" y="523.2" width="11.86" height="79.8" fill="#9EB644"/>
<rect x="717.90" y="602.7" width="11.86" height="158.7" fill="#EEA8A2"/>
<rect x="717.90" y="761.1" width="11.86" height="11.7" fill="#D28882"/>
<rect x="717.90" y="772.5" width="11.86" height="11.7" fill="#A6B984"/>
<rect x="717.90" y="783.9" width="11.86" height="74.2" fill="#A8A8A8"/>
<rect x="717.90" y="857.7" width="11.86" height="100.4" fill="#C8C8C8"/>
<rect x="731.76" y="514.2" width="11.86" height="6.3" fill="#946086"/>
<rect x="731.76" y="520.2" width="11.86" height="9.4" fill="#B080A6"/>
<rect x="731.76" y="529.3" width="11.86" height="9.4" fill="#489688"/>
<rect x="731.76" y="538.4" width="11.86" height="3.3" fill="#C8C8C8"/>
<rect x="731.76" y="541.4" width="11.86" height="98.5" fill="#9EB644"/>
<rect x="731.76" y="639.5" width="11.86" height="49.2" fill="#A89462"/>
<rect x="731.76" y="688.4" width="11.86" height="46.9" fill="#EC9A95"/>
<rect x="731.76" y="735.0" width="11.86" height="32.1" fill="#D28882"/>
<rect x="731.76" y="766.8" width="11.86" height="56.0" fill="#EEA8A2"/>
<rect x="731.76" y="822.5" width="11.86" height="24.2" fill="#A89462"/>
<rect x="731.76" y="846.4" width="11.86" height="20.8" fill="#8A7644"/>
<rect x="731.76" y="866.8" width="11.86" height="52.6" fill="#A6B984"/>
<rect x="731.76" y="919.1" width="11.86" height="7.1" fill="#C8C8C8"/>
<rect x="731.76" y="925.9" width="11.86" height="32.2" fill="#A8A8A8"/>
<rect x="745.61" y="514.2" width="11.86" height="13.1" fill="#946086"/>
<rect x="745.61" y="527.0" width="11.86" height="10.1" fill="#B080A6"/>
<rect x="745.61" y="536.8" width="11.86" height="39.4" fill="#9EB644"/>
<rect x="745.61" y="575.9" width="11.86" height="6.7" fill="#A89462"/>
<rect x="745.61" y="582.3" width="11.86" height="217.8" fill="#EEA8A2"/>
<rect x="745.61" y="799.8" width="11.86" height="27.6" fill="#A6B984"/>
<rect x="745.61" y="827.0" width="11.86" height="111.7" fill="#A8A8A8"/>
<rect x="745.61" y="938.4" width="11.86" height="19.7" fill="#C8C8C8"/>
<rect x="759.46" y="514.2" width="11.86" height="8.6" fill="#946086"/>
<rect x="759.46" y="522.5" width="11.86" height="4.8" fill="#B080A6"/>
<rect x="759.46" y="527.0" width="11.86" height="2.6" fill="#64B4A6"/>
<rect x="759.46" y="529.3" width="11.86" height="19.6" fill="#9EB644"/>
<rect x="759.46" y="548.6" width="11.86" height="23.0" fill="#A89462"/>
<rect x="759.46" y="571.4" width="11.86" height="6.0" fill="#8A7644"/>
<rect x="759.46" y="577.0" width="11.86" height="73.0" fill="#EC9A95"/>
<rect x="759.46" y="649.8" width="11.86" height="27.6" fill="#D28882"/>
<rect x="759.46" y="677.0" width="11.86" height="35.5" fill="#EEA8A2"/>
<rect x="759.46" y="712.3" width="11.86" height="18.5" fill="#D28882"/>
<rect x="759.46" y="730.5" width="11.86" height="23.0" fill="#A89462"/>
<rect x="759.46" y="753.2" width="11.86" height="28.7" fill="#8A7644"/>
<rect x="759.46" y="781.6" width="11.86" height="17.3" fill="#9BAE72"/>
<rect x="759.46" y="798.6" width="11.86" height="109.4" fill="#A6B984"/>
<rect x="759.46" y="907.7" width="11.86" height="20.8" fill="#9BAE72"/>
<rect x="759.46" y="928.2" width="11.86" height="10.5" fill="#A89462"/>
<rect x="759.46" y="938.4" width="11.86" height="19.7" fill="#C8C8C8"/>
<rect x="773.32" y="514.2" width="11.86" height="25.6" fill="#946086"/>
<rect x="773.32" y="539.5" width="11.86" height="11.7" fill="#B080A6"/>
<rect x="773.32" y="550.9" width="11.86" height="4.8" fill="#C8C8C8"/>
<rect x="773.32" y="555.5" width="11.86" height="24.2" fill="#3C50A4"/>
<rect x="773.32" y="579.3" width="11.86" height="70.8" fill="#9EB644"/>
<rect x="773.32" y="649.8" width="11.86" height="261.7" fill="#EEA8A2"/>
<rect x="773.32" y="911.1" width="11.86" height="34.4" fill="#A8A8A8"/>
<rect x="773.32" y="945.2" width="11.86" height="12.9" fill="#C8C8C8"/>
<rect x="787.17" y="514.2" width="11.86" height="5.2" fill="#C8C8C8"/>
<rect x="787.17" y="519.1" width="11.86" height="4.4" fill="#9EB644"/>
<rect x="787.17" y="523.2" width="11.86" height="13.9" fill="#8A7644"/>
<rect x="787.17" y="536.8" width="11.86" height="51.9" fill="#EC9A95"/>
<rect x="787.17" y="588.4" width="11.86" height="35.5" fill="#D28882"/>
<rect x="787.17" y="623.6" width="11.86" height="37.8" fill="#EEA8A2"/>
<rect x="787.17" y="661.1" width="11.86" height="27.6" fill="#8A7644"/>
<rect x="787.17" y="688.4" width="11.86" height="15.1" fill="#A6B984"/>
<rect x="787.17" y="703.2" width="11.86" height="66.2" fill="#9BAE72"/>
<rect x="787.17" y="769.1" width="11.86" height="78.7" fill="#A8A8A8"/>
<rect x="787.17" y="847.5" width="11.86" height="33.3" fill="#C8C8C8"/>
<rect x="787.17" y="880.5" width="11.86" height="15.1" fill="#CC0000"/>
<rect x="787.17" y="895.2" width="11.86" height="62.9" fill="#FF0000"/>
<rect x="801.03" y="514.2" width="11.86" height="17.7" fill="#946086"/>
<rect x="801.03" y="531.6" width="11.86" height="20.8" fill="#B080A6"/>
<rect x="801.03" y="552.0" width="11.86" height="10.1" fill="#C8C8C8"/>
<rect x="801.03" y="561.8" width="11.86" height="70.1" fill="#9EB644"/>
<rect x="801.03" y="631.6" width="11.86" height="3.3" fill="#9E8852"/>
<rect x="801.03" y="634.5" width="11.86" height="161.0" fill="#EEA8A2"/>
<rect x="801.03" y="795.2" width="11.86" height="4.8" fill="#A6B984"/>
<rect x="801.03" y="799.8" width="11.86" height="65.1" fill="#A8A8A8"/>
<rect x="801.03" y="864.5" width="11.86" height="90.8" fill="#C8C8C8"/>
<rect x="801.03" y="955.0" width="11.86" height="3.1" fill="#FF0000"/>
<rect x="814.88" y="514.2" width="11.86" height="2.5" fill="#C8C8C8"/>
<rect x="814.88" y="516.4" width="11.86" height="263.3" fill="#946086"/>
<rect x="814.88" y="779.3" width="11.86" height="66.9" fill="#A67098"/>
<rect x="814.88" y="845.9" width="11.86" height="74.6" fill="#F2E824"/>
<rect x="814.88" y="920.2" width="11.86" height="8.3" fill="#149448"/>
<rect x="814.88" y="928.2" width="11.86" height="4.8" fill="#3C50A4"/>
<rect x="814.88" y="932.7" width="11.86" height="3.7" fill="#C8C8C8"/>
<rect x="814.88" y="936.1" width="11.86" height="22.0" fill="#A8A8A8"/>
<rect x="828.74" y="514.2" width="11.86" height="2.9" fill="#946086"/>
<rect x="828.74" y="516.8" width="11.86" height="7.1" fill="#B080A6"/>
<rect x="828.74" y="523.6" width="11.86" height="3.0" fill="#BEBEBE"/>
<rect x="828.74" y="526.4" width="11.86" height="79.4" fill="#9EB644"/>
<rect x="828.74" y="605.5" width="11.86" height="27.6" fill="#A89462"/>
<rect x="828.74" y="632.7" width="11.86" height="162.8" fill="#EEA8A2"/>
<rect x="828.74" y="795.2" width="11.86" height="4.8" fill="#A6B984"/>
<rect x="828.74" y="799.8" width="11.86" height="136.7" fill="#A8A8A8"/>
<rect x="828.74" y="936.1" width="11.86" height="22.0" fill="#C8C8C8"/>
<rect x="842.60" y="514.2" width="11.86" height="107.5" fill="#3C50A4"/>
<rect x="842.60" y="621.4" width="11.86" height="336.7" fill="#FF0000"/>
<rect x="856.45" y="514.2" width="11.86" height="9.7" fill="#A67098"/>
<rect x="856.45" y="523.6" width="11.86" height="27.1" fill="#F2E824"/>
<rect x="856.45" y="550.5" width="11.86" height="214.4" fill="#149448"/>
<rect x="856.45" y="764.5" width="11.86" height="62.8" fill="#9EB644"/>
<rect x="856.45" y="827.0" width="11.86" height="3.7" fill="#9E8852"/>
<rect x="856.45" y="830.5" width="11.86" height="127.6" fill="#C8C8C8"/>
<rect x="870.31" y="514.2" width="11.86" height="12.0" fill="#B080A6"/>
<rect x="870.31" y="525.9" width="11.86" height="3.0" fill="#BEBEBE"/>
<rect x="870.31" y="528.6" width="11.86" height="58.5" fill="#9EB644"/>
<rect x="870.31" y="586.8" width="11.86" height="11.0" fill="#A89462"/>
<rect x="870.31" y="597.5" width="11.86" height="261.7" fill="#EEA8A2"/>
<rect x="870.31" y="858.9" width="11.86" height="86.7" fill="#A8A8A8"/>
<rect x="870.31" y="945.2" width="11.86" height="12.9" fill="#C8C8C8"/>
<rect x="884.16" y="514.2" width="11.86" height="6.3" fill="#946086"/>
<rect x="884.16" y="520.2" width="11.86" height="3.7" fill="#B080A6"/>
<rect x="884.16" y="523.6" width="11.86" height="11.7" fill="#64B4A6"/>
<rect x="884.16" y="535.0" width="11.86" height="4.8" fill="#9EB644"/>
<rect x="884.16" y="539.5" width="11.86" height="77.6" fill="#A89462"/>
<rect x="884.16" y="616.8" width="11.86" height="10.5" fill="#8A7644"/>
<rect x="884.16" y="627.0" width="11.86" height="125.3" fill="#EEA8A2"/>
<rect x="884.16" y="752.0" width="11.86" height="12.8" fill="#D28882"/>
<rect x="884.16" y="764.5" width="11.86" height="76.4" fill="#EEA8A2"/>
<rect x="884.16" y="840.7" width="11.86" height="29.8" fill="#8A7644"/>
<rect x="884.16" y="870.2" width="11.86" height="16.2" fill="#A6B984"/>
<rect x="884.16" y="886.1" width="11.86" height="12.8" fill="#9BAE72"/>
<rect x="884.16" y="898.6" width="11.86" height="26.4" fill="#A6B984"/>
<rect x="884.16" y="924.8" width="11.86" height="17.3" fill="#A8A8A8"/>
<rect x="884.16" y="941.8" width="11.86" height="16.3" fill="#C8C8C8"/>
<rect x="898.02" y="514.2" width="11.86" height="3.4" fill="#F2E824"/>
<rect x="898.02" y="517.3" width="11.86" height="374.8" fill="#3C50A4"/>
<rect x="898.02" y="891.8" width="11.86" height="20.8" fill="#C8C8C8"/>
<rect x="898.02" y="912.3" width="11.86" height="45.8" fill="#9EB644"/>
<rect x="911.87" y="514.2" width="11.86" height="2.9" fill="#3C50A4"/>
<rect x="911.87" y="516.8" width="11.86" height="22.6" fill="#9EB644"/>
<rect x="911.87" y="539.1" width="11.86" height="28.0" fill="#EEA8A2"/>
<rect x="911.87" y="566.8" width="11.86" height="9.4" fill="#D28882"/>
<rect x="911.87" y="575.9" width="11.86" height="12.8" fill="#EEA8A2"/>
<rect x="911.87" y="588.4" width="11.86" height="9.4" fill="#A89462"/>
<rect x="911.87" y="597.5" width="11.86" height="36.7" fill="#9BAE72"/>
<rect x="911.87" y="633.9" width="11.86" height="324.2" fill="#C8C8C8"/>
<rect x="925.72" y="514.2" width="11.86" height="21.1" fill="#946086"/>
<rect x="925.72" y="535.0" width="11.86" height="20.8" fill="#B080A6"/>
<rect x="925.72" y="555.5" width="11.86" height="7.6" fill="#C8C8C8"/>
<rect x="925.72" y="562.7" width="11.86" height="45.8" fill="#9EB644"/>
<rect x="925.72" y="608.2" width="11.86" height="168.0" fill="#EEA8A2"/>
<rect x="925.72" y="775.9" width="11.86" height="10.5" fill="#A6B984"/>
<rect x="925.72" y="786.1" width="11.86" height="65.5" fill="#A8A8A8"/>
<rect x="925.72" y="851.4" width="11.86" height="106.7" fill="#C8C8C8"/>
<rect x="939.58" y="514.2" width="11.86" height="7.5" fill="#946086"/>
<rect x="939.58" y="521.4" width="11.86" height="6.0" fill="#64B4A6"/>
<rect x="939.58" y="527.0" width="11.86" height="23.7" fill="#9EB644"/>
<rect x="939.58" y="550.5" width="11.86" height="38.3" fill="#8A7644"/>
<rect x="939.58" y="588.4" width="11.86" height="73.0" fill="#EEA8A2"/>
<rect x="939.58" y="661.1" width="11.86" height="74.2" fill="#D28882"/>
<rect x="939.58" y="735.0" width="11.86" height="44.6" fill="#EEA8A2"/>
<rect x="939.58" y="779.3" width="11.86" height="7.1" fill="#D28882"/>
<rect x="939.58" y="786.1" width="11.86" height="117.3" fill="#EEA8A2"/>
<rect x="939.58" y="903.2" width="11.86" height="21.9" fill="#9BAE72"/>
<rect x="939.58" y="924.8" width="11.86" height="26.4" fill="#A8A8A8"/>
<rect x="939.58" y="950.9" width="11.86" height="7.2" fill="#C8C8C8"/>
<rect x="953.43" y="514.2" width="11.86" height="13.8" fill="#9EB644"/>
<rect x="953.43" y="527.7" width="11.86" height="11.7" fill="#A89462"/>
<rect x="953.43" y="539.1" width="11.86" height="12.1" fill="#EC9A95"/>
<rect x="953.43" y="550.9" width="11.86" height="138.9" fill="#D28882"/>
<rect x="953.43" y="689.5" width="11.86" height="31.0" fill="#EEA8A2"/>
<rect x="953.43" y="720.2" width="11.86" height="57.1" fill="#D28882"/>
<rect x="953.43" y="777.0" width="11.86" height="12.8" fill="#EEA8A2"/>
<rect x="953.43" y="789.5" width="11.86" height="3.7" fill="#9E8852"/>
<rect x="953.43" y="793.0" width="11.86" height="132.8" fill="#C8C8C8"/>
<rect x="953.43" y="925.5" width="11.86" height="6.4" fill="#CC0000"/>
<rect x="953.43" y="931.6" width="11.86" height="3.7" fill="#FF3333"/>
<rect x="953.43" y="935.0" width="11.86" height="23.1" fill="#CC0000"/>
<rect x="967.29" y="514.2" width="11.86" height="6.3" fill="#946086"/>
<rect x="967.29" y="520.2" width="11.86" height="7.1" fill="#B080A6"/>
<rect x="967.29" y="527.0" width="11.86" height="11.7" fill="#9EB644"/>
<rect x="967.29" y="538.4" width="11.86" height="6.0" fill="#9E8852"/>
<rect x="967.29" y="544.1" width="11.86" height="157.1" fill="#EC9A95"/>
<rect x="967.29" y="700.9" width="11.86" height="59.4" fill="#A6B984"/>
<rect x="967.29" y="760.0" width="11.86" height="9.4" fill="#A89462"/>
<rect x="967.29" y="769.1" width="11.86" height="21.9" fill="#A8A8A8"/>
<rect x="967.29" y="790.7" width="11.86" height="53.7" fill="#C8C8C8"/>
<rect x="967.29" y="844.1" width="11.86" height="53.7" fill="#A8A8A8"/>
<rect x="967.29" y="897.5" width="11.86" height="60.6" fill="#C8C8C8"/>
<rect x="981.14" y="514.2" width="11.86" height="13.1" fill="#946086"/>
<rect x="981.14" y="527.0" width="11.86" height="17.3" fill="#B080A6"/>
<rect x="981.14" y="544.1" width="11.86" height="8.3" fill="#C8C8C8"/>
<rect x="981.14" y="552.0" width="11.86" height="71.4" fill="#9EB644"/>
<rect x="981.14" y="623.2" width="11.86" height="8.7" fill="#8A7644"/>
<rect x="981.14" y="631.6" width="11.86" height="128.7" fill="#EEA8A2"/>
<rect x="981.14" y="760.0" width="11.86" height="18.5" fill="#A6B984"/>
<rect x="981.14" y="778.2" width="11.86" height="99.8" fill="#A8A8A8"/>
<rect x="981.14" y="877.7" width="11.86" height="74.6" fill="#C8C8C8"/>
<rect x="981.14" y="952.0" width="11.86" height="6.1" fill="#FF3333"/>
<rect x="995.00" y="514.2" width="11.86" height="48.4" fill="#489688"/>
<rect x="995.00" y="562.3" width="11.86" height="32.1" fill="#50AC9E"/>
<rect x="995.00" y="594.1" width="11.86" height="46.9" fill="#489688"/>
<rect x="995.00" y="640.7" width="11.86" height="16.2" fill="#64B4A6"/>
<rect x="995.00" y="656.6" width="11.86" height="46.9" fill="#A89462"/>
<rect x="995.00" y="703.2" width="11.86" height="110.5" fill="#A6B984"/>
<rect x="995.00" y="813.4" width="11.86" height="144.7" fill="#C8C8C8"/>
<rect x="1008.86" y="514.2" width="11.86" height="56.3" fill="#489688"/>
<rect x="1008.86" y="570.2" width="11.86" height="32.1" fill="#50AC9E"/>
<rect x="1008.86" y="602.0" width="11.86" height="19.6" fill="#489688"/>
<rect x="1008.86" y="621.4" width="11.86" height="27.1" fill="#64B4A6"/>
<rect x="1008.86" y="648.2" width="11.86" height="21.2" fill="#EC9A95"/>
<rect x="1008.86" y="669.1" width="11.86" height="40.1" fill="#A89462"/>
<rect x="1008.86" y="708.9" width="11.86" height="46.9" fill="#8A7644"/>
<rect x="1008.86" y="755.5" width="11.86" height="10.5" fill="#A6B984"/>
<rect x="1008.86" y="765.7" width="11.86" height="192.4" fill="#C8C8C8"/>
<rect x="1022.71" y="514.2" width="11.86" height="18.8" fill="#50AC9E"/>
<rect x="1022.71" y="532.7" width="11.86" height="25.3" fill="#489688"/>
<rect x="1022.71" y="557.7" width="11.86" height="21.9" fill="#50AC9E"/>
<rect x="1022.71" y="579.3" width="11.86" height="54.8" fill="#489688"/>
<rect x="1022.71" y="633.9" width="11.86" height="9.4" fill="#64B4A6"/>
<rect x="1022.71" y="643.0" width="11.86" height="8.3" fill="#A89462"/>
<rect x="1022.71" y="650.9" width="11.86" height="50.3" fill="#EC9A95"/>
<rect x="1022.71" y="700.9" width="11.86" height="9.4" fill="#A89462"/>
<rect x="1022.71" y="710.0" width="11.86" height="192.3" fill="#8A7644"/>
<rect x="1022.71" y="902.0" width="11.86" height="8.3" fill="#9BAE72"/>
<rect x="1022.71" y="910.0" width="11.86" height="37.8" fill="#A6B984"/>
<rect x="1022.71" y="947.5" width="11.86" height="10.6" fill="#A8A8A8"/>
<rect x="1036.57" y="514.2" width="11.86" height="4.1" fill="#A67098"/>
<rect x="1036.57" y="518.0" width="11.86" height="7.1" fill="#489688"/>
<rect x="1036.57" y="524.8" width="11.86" height="8.3" fill="#50AC9E"/>
<rect x="1036.57" y="532.7" width="11.86" height="23.0" fill="#64B4A6"/>
<rect x="1036.57" y="555.5" width="11.86" height="42.3" fill="#A89462"/>
<rect x="1036.57" y="597.5" width="11.86" height="8.3" fill="#8A7644"/>
<rect x="1036.57" y="605.5" width="11.86" height="228.0" fill="#EEA8A2"/>
<rect x="1036.57" y="833.2" width="11.86" height="16.9" fill="#8A7644"/>
<rect x="1036.57" y="849.8" width="11.86" height="57.1" fill="#A6B984"/>
<rect x="1036.57" y="906.6" width="11.86" height="28.7" fill="#A8A8A8"/>
<rect x="1036.57" y="935.0" width="11.86" height="23.1" fill="#C8C8C8"/>
<rect x="1050.42" y="514.2" width="11.86" height="4.1" fill="#B080A6"/>
<rect x="1050.42" y="518.0" width="11.86" height="3.7" fill="#C8C8C8"/>
<rect x="1050.42" y="521.4" width="11.86" height="29.8" fill="#3C50A4"/>
<rect x="1050.42" y="550.9" width="11.86" height="200.3" fill="#C8C8C8"/>
<rect x="1050.42" y="750.9" width="11.86" height="136.7" fill="#9EB644"/>
<rect x="1050.42" y="887.3" width="11.86" height="50.3" fill="#C8C8C8"/>
<rect x="1050.42" y="937.3" width="11.86" height="20.8" fill="#A8A8A8"/>
<rect x="1064.28" y="514.2" width="11.86" height="17.7" fill="#946086"/>
<rect x="1064.28" y="531.6" width="11.86" height="19.2" fill="#B080A6"/>
<rect x="1064.28" y="550.5" width="11.86" height="61.7" fill="#9EB644"/>
<rect x="1064.28" y="611.8" width="11.86" height="253.0" fill="#EEA8A2"/>
<rect x="1064.28" y="864.5" width="11.86" height="10.5" fill="#A6B984"/>
<rect x="1064.28" y="874.8" width="11.86" height="33.3" fill="#A8A8A8"/>
<rect x="1064.28" y="907.7" width="11.86" height="50.4" fill="#C8C8C8"/>
<rect x="1078.13" y="514.2" width="11.86" height="5.2" fill="#64B4A6"/>
<rect x="1078.13" y="519.1" width="11.86" height="11.2" fill="#3C50A4"/>
<rect x="1078.13" y="530.0" width="11.86" height="136.7" fill="#C8C8C8"/>
<rect x="1078.13" y="666.4" width="11.86" height="99.6" fill="#9EB644"/>
<rect x="1078.13" y="765.7" width="11.86" height="33.3" fill="#EEA8A2"/>
<rect x="1078.13" y="798.6" width="11.86" height="13.9" fill="#D28882"/>
<rect x="1078.13" y="812.3" width="11.86" height="13.9" fill="#A6B984"/>
<rect x="1078.13" y="825.9" width="11.86" height="16.2" fill="#A8A8A8"/>
<rect x="1078.13" y="841.8" width="11.86" height="116.3" fill="#C8C8C8"/>
<rect x="1091.99" y="514.2" width="11.86" height="33.6" fill="#64B4A6"/>
<rect x="1091.99" y="547.5" width="11.86" height="27.6" fill="#489688"/>
<rect x="1091.99" y="574.8" width="11.86" height="33.3" fill="#64B4A6"/>
<rect x="1091.99" y="607.7" width="11.86" height="101.4" fill="#50AC9E"/>
<rect x="1091.99" y="708.9" width="11.86" height="34.4" fill="#9EB644"/>
<rect x="1091.99" y="743.0" width="11.86" height="12.8" fill="#EEA8A2"/>
<rect x="1091.99" y="755.5" width="11.86" height="7.1" fill="#D28882"/>
<rect x="1091.99" y="762.3" width="11.86" height="9.4" fill="#EEA8A2"/>
<rect x="1091.99" y="771.4" width="11.86" height="54.8" fill="#A6B984"/>
<rect x="1091.99" y="825.9" width="11.86" height="7.1" fill="#A8A8A8"/>
<rect x="1091.99" y="832.7" width="11.86" height="125.4" fill="#C8C8C8"/>
<rect x="1105.84" y="514.2" width="11.86" height="6.3" fill="#A67098"/>
<rect x="1105.84" y="520.2" width="11.86" height="4.8" fill="#64B4A6"/>
<rect x="1105.84" y="524.8" width="11.86" height="13.3" fill="#9EB644"/>
<rect x="1105.84" y="537.7" width="11.86" height="37.3" fill="#EEA8A2"/>
<rect x="1105.84" y="574.8" width="11.86" height="46.9" fill="#D28882"/>
<rect x="1105.84" y="621.4" width="11.86" height="8.3" fill="#EEA8A2"/>
<rect x="1105.84" y="629.3" width="11.86" height="7.1" fill="#9BAE72"/>
<rect x="1105.84" y="636.1" width="11.86" height="75.3" fill="#A6B984"/>
<rect x="1105.84" y="711.1" width="11.86" height="73.0" fill="#A8A8A8"/>
<rect x="1105.84" y="783.9" width="11.86" height="174.2" fill="#C8C8C8"/>
<rect x="1119.69" y="514.2" width="11.86" height="7.5" fill="#50AC9E"/>
<rect x="1119.69" y="521.4" width="11.86" height="28.7" fill="#64B4A6"/>
<rect x="1119.69" y="549.8" width="11.86" height="28.7" fill="#489688"/>
<rect x="1119.69" y="578.2" width="11.86" height="6.0" fill="#64B4A6"/>
<rect x="1119.69" y="583.9" width="11.86" height="13.9" fill="#A89462"/>
<rect x="1119.69" y="597.5" width="11.86" height="18.5" fill="#EC9A95"/>
<rect x="1119.69" y="615.7" width="11.86" height="11.7" fill="#A89462"/>
<rect x="1119.69" y="627.0" width="11.86" height="251.4" fill="#8A7644"/>
<rect x="1119.69" y="878.2" width="11.86" height="18.5" fill="#9BAE72"/>
<rect x="1119.69" y="896.4" width="11.86" height="23.0" fill="#A6B984"/>
<rect x="1119.69" y="919.1" width="11.86" height="39.0" fill="#C8C8C8"/>
<rect x="1133.55" y="514.2" width="11.86" height="37.0" fill="#3C50A4"/>
<rect x="1133.55" y="550.9" width="11.86" height="407.2" fill="#C8C8C8"/>
<rect x="1147.40" y="514.2" width="11.86" height="23.4" fill="#3C50A4"/>
<rect x="1147.40" y="537.3" width="11.86" height="119.6" fill="#C8C8C8"/>
<rect x="1147.40" y="656.6" width="11.86" height="48.0" fill="#9EB644"/>
<rect x="1147.40" y="704.3" width="11.86" height="17.3" fill="#EEA8A2"/>
<rect x="1147.40" y="721.4" width="11.86" height="8.3" fill="#D28882"/>
<rect x="1147.40" y="729.3" width="11.86" height="19.6" fill="#A6B984"/>
<rect x="1147.40" y="748.6" width="11.86" height="6.0" fill="#A8A8A8"/>
<rect x="1147.40" y="754.3" width="11.86" height="203.8" fill="#C8C8C8"/>
<rect x="1161.26" y="514.2" width="11.86" height="4.1" fill="#A6B984"/>
<rect x="1161.26" y="518.0" width="11.86" height="29.8" fill="#A89462"/>
<rect x="1161.26" y="547.5" width="11.86" height="10.5" fill="#EEA8A2"/>
<rect x="1161.26" y="557.7" width="11.86" height="11.7" fill="#EC9A95"/>
<rect x="1161.26" y="569.1" width="11.86" height="44.6" fill="#EEA8A2"/>
<rect x="1161.26" y="613.4" width="11.86" height="20.8" fill="#A89462"/>
<rect x="1161.26" y="633.9" width="11.86" height="202.6" fill="#8A7644"/>
<rect x="1161.26" y="836.1" width="11.86" height="8.3" fill="#A6B984"/>
<rect x="1161.26" y="844.1" width="11.86" height="31.0" fill="#9BAE72"/>
<rect x="1161.26" y="874.8" width="11.86" height="60.5" fill="#A6B984"/>
<rect x="1161.26" y="935.0" width="11.86" height="23.1" fill="#A8A8A8"/>
<rect x="1175.12" y="514.2" width="11.86" height="5.2" fill="#B080A6"/>
<rect x="1175.12" y="519.1" width="11.86" height="59.4" fill="#946086"/>
<rect x="1175.12" y="578.2" width="11.86" height="125.3" fill="#A67098"/>
<rect x="1175.12" y="703.2" width="11.86" height="166.2" fill="#3C50A4"/>
<rect x="1175.12" y="869.1" width="11.86" height="37.8" fill="#9EB644"/>
<rect x="1175.12" y="906.6" width="11.86" height="15.5" fill="#EEA8A2"/>
<rect x="1175.12" y="921.8" width="11.86" height="22.6" fill="#A6B984"/>
<rect x="1175.12" y="944.1" width="11.86" height="14.0" fill="#C8C8C8"/>
<rect x="1188.97" y="514.2" width="11.86" height="14.3" fill="#64B4A6"/>
<rect x="1188.97" y="528.2" width="11.86" height="4.8" fill="#A89462"/>
<rect x="1188.97" y="532.7" width="11.86" height="50.3" fill="#EEA8A2"/>
<rect x="1188.97" y="582.7" width="11.86" height="27.6" fill="#EC9A95"/>
<rect x="1188.97" y="610.0" width="11.86" height="11.7" fill="#EEA8A2"/>
<rect x="1188.97" y="621.4" width="11.86" height="7.1" fill="#9BAE72"/>
<rect x="1188.97" y="628.2" width="11.86" height="129.8" fill="#A6B984"/>
<rect x="1188.97" y="757.7" width="11.86" height="65.1" fill="#A8A8A8"/>
<rect x="1188.97" y="822.5" width="11.86" height="135.6" fill="#C8C8C8"/>
<rect x="1202.83" y="514.2" width="11.86" height="8.6" fill="#489688"/>
<rect x="1202.83" y="522.5" width="11.86" height="33.3" fill="#50AC9E"/>
<rect x="1202.83" y="555.5" width="11.86" height="10.5" fill="#489688"/>
<rect x="1202.83" y="565.7" width="11.86" height="15.1" fill="#A89462"/>
<rect x="1202.83" y="580.5" width="11.86" height="116.2" fill="#EEA8A2"/>
<rect x="1202.83" y="696.4" width="11.86" height="18.5" fill="#A89462"/>
<rect x="1202.83" y="714.5" width="11.86" height="143.5" fill="#8A7644"/>
<rect x="1202.83" y="857.7" width="11.86" height="10.5" fill="#A6B984"/>
<rect x="1202.83" y="868.0" width="11.86" height="12.8" fill="#9BAE72"/>
<rect x="1202.83" y="880.5" width="11.86" height="48.0" fill="#A6B984"/>
<rect x="1202.83" y="928.2" width="11.86" height="17.3" fill="#C8C8C8"/>
<rect x="1202.83" y="945.2" width="11.86" height="12.9" fill="#A8A8A8"/>
<rect x="1216.68" y="514.2" width="11.86" height="4.1" fill="#64B4A6"/>
<rect x="1216.68" y="518.0" width="11.86" height="3.7" fill="#C8C8C8"/>
<rect x="1216.68" y="521.4" width="11.86" height="3.9" fill="#EEA8A2"/>
<rect x="1216.68" y="525.0" width="11.86" height="433.1" fill="#FF0000"/>
<rect x="1230.54" y="514.2" width="11.86" height="6.3" fill="#C8C8C8"/>
<rect x="1230.54" y="520.2" width="11.86" height="2.6" fill="#3C50A4"/>
<rect x="1230.54" y="522.5" width="11.86" height="6.4" fill="#C8C8C8"/>
<rect x="1230.54" y="528.6" width="11.86" height="426.0" fill="#9EB644"/>
<rect x="1230.54" y="954.3" width="11.86" height="3.8" fill="#C8C8C8"/>
<rect x="1244.39" y="514.2" width="11.86" height="4.1" fill="#B080A6"/>
<rect x="1244.39" y="518.0" width="11.86" height="309.4" fill="#9EB644"/>
<rect x="1244.39" y="827.0" width="11.86" height="6.0" fill="#9E8852"/>
<rect x="1244.39" y="832.7" width="11.86" height="32.1" fill="#EEA8A2"/>
<rect x="1244.39" y="864.5" width="11.86" height="20.8" fill="#D28882"/>
<rect x="1244.39" y="885.0" width="11.86" height="32.1" fill="#EEA8A2"/>
<rect x="1244.39" y="916.8" width="11.86" height="11.7" fill="#8A7644"/>
<rect x="1244.39" y="928.2" width="11.86" height="19.6" fill="#A6B984"/>
<rect x="1244.39" y="947.5" width="11.86" height="10.6" fill="#C8C8C8"/>
<rect x="1258.25" y="514.2" width="11.86" height="2.9" fill="#64B4A6"/>
<rect x="1258.25" y="516.8" width="11.86" height="2.6" fill="#C8C8C8"/>
<rect x="1258.25" y="519.1" width="11.86" height="409.4" fill="#9EB644"/>
<rect x="1258.25" y="928.2" width="11.86" height="16.2" fill="#EC9A95"/>
<rect x="1258.25" y="944.1" width="11.86" height="14.0" fill="#C8C8C8"/>
<rect x="1272.10" y="514.2" width="11.86" height="437.0" fill="#149448"/>
<rect x="1272.10" y="950.9" width="11.86" height="7.2" fill="#FF0000"/>
<rect x="1285.96" y="514.2" width="11.86" height="39.3" fill="#A89462"/>
<rect x="1285.96" y="553.2" width="11.86" height="60.5" fill="#EEA8A2"/>
<rect x="1285.96" y="613.4" width="11.86" height="23.0" fill="#A89462"/>
<rect x="1285.96" y="636.1" width="11.86" height="161.7" fill="#8A7644"/>
<rect x="1285.96" y="797.5" width="11.86" height="20.8" fill="#A89462"/>
<rect x="1285.96" y="818.0" width="11.86" height="56.0" fill="#9BAE72"/>
<rect x="1285.96" y="873.6" width="11.86" height="54.8" fill="#A6B984"/>
<rect x="1285.96" y="928.2" width="11.86" height="7.1" fill="#9E8852"/>
<rect x="1285.96" y="935.0" width="11.86" height="23.1" fill="#A8A8A8"/>
<rect x="1299.81" y="514.2" width="11.86" height="22.2" fill="#A89462"/>
<rect x="1299.81" y="536.1" width="11.86" height="66.2" fill="#EEA8A2"/>
<rect x="1299.81" y="602.0" width="11.86" height="21.9" fill="#A89462"/>
<rect x="1299.81" y="623.6" width="11.86" height="98.0" fill="#8A7644"/>
<rect x="1299.81" y="721.4" width="11.86" height="13.9" fill="#A6B984"/>
<rect x="1299.81" y="735.0" width="11.86" height="54.8" fill="#9BAE72"/>
<rect x="1299.81" y="789.5" width="11.86" height="140.1" fill="#A6B984"/>
<rect x="1299.81" y="929.3" width="11.86" height="10.5" fill="#9BAE72"/>
<rect x="1299.81" y="939.5" width="11.86" height="18.6" fill="#A8A8A8"/>
<rect x="1313.67" y="514.2" width="11.86" height="20.0" fill="#64B4A6"/>
<rect x="1313.67" y="533.9" width="11.86" height="420.8" fill="#149448"/>
<rect x="1313.67" y="954.3" width="11.86" height="3.8" fill="#3C50A4"/>
<rect x="1327.52" y="514.2" width="11.86" height="435.9" fill="#149448"/>
<rect x="1327.52" y="949.8" width="11.86" height="8.3" fill="#3C50A4"/>
<rect x="1341.38" y="514.2" width="11.86" height="443.9" fill="#A8A8A8"/>
<rect x="1355.23" y="514.2" width="11.86" height="443.9" fill="#899B64"/>
<rect x="1369.09" y="514.2" width="11.86" height="6.3" fill="#B080A6"/>
<rect x="1369.09" y="520.2" width="11.86" height="49.2" fill="#A89462"/>
<rect x="1369.09" y="569.1" width="11.86" height="141.2" fill="#EEA8A2"/>
<rect x="1369.09" y="710.0" width="11.86" height="63.9" fill="#A89462"/>
<rect x="1369.09" y="773.6" width="11.86" height="52.6" fill="#8A7644"/>
<rect x="1369.09" y="825.9" width="11.86" height="48.0" fill="#A6B984"/>
<rect x="1369.09" y="873.6" width="11.86" height="20.8" fill="#9BAE72"/>
<rect x="1369.09" y="894.1" width="11.86" height="29.8" fill="#A6B984"/>
<rect x="1369.09" y="923.6" width="11.86" height="34.5" fill="#C8C8C8"/>
<rect x="1382.94" y="514.2" width="11.86" height="5.2" fill="#A6B984"/>
<rect x="1382.94" y="519.1" width="11.86" height="38.9" fill="#A89462"/>
<rect x="1382.94" y="557.7" width="11.86" height="57.1" fill="#EEA8A2"/>
<rect x="1382.94" y="614.5" width="11.86" height="13.9" fill="#D28882"/>
<rect x="1382.94" y="628.2" width="11.86" height="66.2" fill="#EEA8A2"/>
<rect x="1382.94" y="694.1" width="11.86" height="23.0" fill="#A89462"/>
<rect x="1382.94" y="716.8" width="11.86" height="49.2" fill="#8A7644"/>
<rect x="1382.94" y="765.7" width="11.86" height="44.6" fill="#A6B984"/>
<rect x="1382.94" y="810.0" width="11.86" height="134.4" fill="#9BAE72"/>
<rect x="1382.94" y="944.1" width="11.86" height="14.0" fill="#C8C8C8"/>
<rect x="1396.80" y="514.2" width="11.86" height="4.1" fill="#A67098"/>
<rect x="1396.80" y="518.0" width="11.86" height="248.7" fill="#F2E824"/>
<rect x="1396.80" y="766.4" width="11.86" height="191.7" fill="#149448"/>
<rect x="1410.65" y="514.2" width="11.86" height="5.6" fill="#A67098"/>
<rect x="1410.65" y="519.5" width="11.86" height="38.0" fill="#F2E824"/>
<rect x="1410.65" y="557.3" width="11.86" height="391.2" fill="#149448"/>
<rect x="1410.65" y="948.2" width="11.86" height="9.9" fill="#3C50A4"/>
<rect x="1424.51" y="514.2" width="11.86" height="6.3" fill="#64B4A6"/>
<rect x="1424.51" y="520.2" width="11.86" height="24.2" fill="#A89462"/>
<rect x="1424.51" y="544.1" width="11.86" height="102.6" fill="#EEA8A2"/>
<rect x="1424.51" y="646.4" width="11.86" height="42.3" fill="#8A7644"/>
<rect x="1424.51" y="688.4" width="11.86" height="65.1" fill="#9BAE72"/>
<rect x="1424.51" y="753.2" width="11.86" height="68.5" fill="#A6B984"/>
<rect x="1424.51" y="821.4" width="11.86" height="19.6" fill="#A8A8A8"/>
<rect x="1424.51" y="840.7" width="11.86" height="117.4" fill="#C8C8C8"/>
<rect x="1438.36" y="514.2" width="11.86" height="23.4" fill="#A89462"/>
<rect x="1438.36" y="537.3" width="11.86" height="115.1" fill="#EEA8A2"/>
<rect x="1438.36" y="652.0" width="11.86" height="12.8" fill="#A89462"/>
<rect x="1438.36" y="664.5" width="11.86" height="119.6" fill="#8A7644"/>
<rect x="1438.36" y="783.9" width="11.86" height="69.6" fill="#9BAE72"/>
<rect x="1438.36" y="853.2" width="11.86" height="86.7" fill="#A6B984"/>
<rect x="1438.36" y="939.5" width="11.86" height="18.6" fill="#A8A8A8"/>
<rect x="1452.22" y="514.2" width="11.86" height="10.2" fill="#C8C8C8"/>
<rect x="1452.22" y="524.1" width="11.86" height="4.4" fill="#B080A6"/>
<rect x="1452.22" y="528.2" width="11.86" height="11.7" fill="#489688"/>
<rect x="1452.22" y="539.5" width="11.86" height="17.3" fill="#64B4A6"/>
<rect x="1452.22" y="556.6" width="11.86" height="14.6" fill="#F2E824"/>
<rect x="1452.22" y="570.9" width="11.86" height="25.8" fill="#149448"/>
<rect x="1452.22" y="596.4" width="11.86" height="24.8" fill="#3C50A4"/>
<rect x="1452.22" y="620.9" width="11.86" height="7.6" fill="#9EB644"/>
<rect x="1452.22" y="628.2" width="11.86" height="18.5" fill="#A89462"/>
<rect x="1452.22" y="646.4" width="11.86" height="45.8" fill="#EEA8A2"/>
<rect x="1452.22" y="691.8" width="11.86" height="11.7" fill="#A89462"/>
<rect x="1452.22" y="703.2" width="11.86" height="184.4" fill="#C8C8C8"/>
<rect x="1452.22" y="887.3" width="11.86" height="25.3" fill="#A8A8A8"/>
<rect x="1452.22" y="912.3" width="11.86" height="12.8" fill="#C8C8C8"/>
<rect x="1452.22" y="924.8" width="11.86" height="24.2" fill="#CC0000"/>
<rect x="1452.22" y="948.6" width="11.86" height="9.5" fill="#C8C8C8"/>
<rect x="1466.07" y="514.2" width="11.86" height="5.2" fill="#946086"/>
<rect x="1466.07" y="519.1" width="11.86" height="21.9" fill="#B080A6"/>
<rect x="1466.07" y="540.7" width="11.86" height="3.7" fill="#F2E824"/>
<rect x="1466.07" y="544.1" width="11.86" height="3.0" fill="#3C50A4"/>
<rect x="1466.07" y="546.8" width="11.86" height="253.3" fill="#9EB644"/>
<rect x="1466.07" y="799.8" width="11.86" height="8.3" fill="#9E8852"/>
<rect x="1466.07" y="807.7" width="11.86" height="34.4" fill="#EEA8A2"/>
<rect x="1466.07" y="841.8" width="11.86" height="8.3" fill="#9BAE72"/>
<rect x="1466.07" y="849.8" width="11.86" height="70.8" fill="#C8C8C8"/>
<rect x="1466.07" y="920.2" width="11.86" height="26.4" fill="#A8A8A8"/>
<rect x="1466.07" y="946.4" width="11.86" height="8.3" fill="#C8C8C8"/>
<rect x="1466.07" y="954.3" width="11.86" height="3.8" fill="#FF3333"/>
<rect x="1479.93" y="514.2" width="11.86" height="2.5" fill="#B080A6"/>
<rect x="1479.93" y="516.4" width="11.86" height="2.6" fill="#F2E824"/>
<rect x="1479.93" y="518.6" width="11.86" height="241.2" fill="#9EB644"/>
<rect x="1479.93" y="759.5" width="11.86" height="21.2" fill="#FF0000"/>
<rect x="1479.93" y="780.5" width="11.86" height="177.6" fill="#FF3333"/>
<rect x="1493.78" y="514.2" width="11.86" height="119.5" fill="#9EB644"/>
<rect x="1493.78" y="633.4" width="11.86" height="31.0" fill="#FF0000"/>
<rect x="1493.78" y="664.1" width="11.86" height="294.0" fill="#FF3333"/>
<rect x="1507.63" y="514.2" width="11.86" height="5.2" fill="#A67098"/>
<rect x="1507.63" y="519.1" width="11.86" height="38.9" fill="#64B4A6"/>
<rect x="1507.63" y="557.7" width="11.86" height="6.0" fill="#9EB644"/>
<rect x="1507.63" y="563.4" width="11.86" height="32.1" fill="#A89462"/>
<rect x="1507.63" y="595.2" width="11.86" height="207.1" fill="#EEA8A2"/>
<rect x="1507.63" y="802.0" width="11.86" height="18.5" fill="#8A7644"/>
<rect x="1507.63" y="820.2" width="11.86" height="24.2" fill="#A6B984"/>
<rect x="1507.63" y="844.1" width="11.86" height="52.6" fill="#9BAE72"/>
<rect x="1507.63" y="896.4" width="11.86" height="31.0" fill="#A6B984"/>
<rect x="1507.63" y="927.0" width="11.86" height="12.8" fill="#A8A8A8"/>
<rect x="1507.63" y="939.5" width="11.86" height="18.6" fill="#C8C8C8"/>
<rect x="1521.49" y="514.2" width="11.86" height="8.6" fill="#A67098"/>
<rect x="1521.49" y="522.5" width="11.86" height="10.5" fill="#64B4A6"/>
<rect x="1521.49" y="532.7" width="11.86" height="11.7" fill="#C8C8C8"/>
<rect x="1521.49" y="544.1" width="11.86" height="7.1" fill="#A89462"/>
<rect x="1521.49" y="550.9" width="11.86" height="25.3" fill="#8A7644"/>
<rect x="1521.49" y="575.9" width="11.86" height="40.1" fill="#A89462"/>
<rect x="1521.49" y="615.7" width="11.86" height="27.6" fill="#EEA8A2"/>
<rect x="1521.49" y="643.0" width="11.86" height="21.9" fill="#D28882"/>
<rect x="1521.49" y="664.5" width="11.86" height="52.6" fill="#EEA8A2"/>
<rect x="1521.49" y="716.8" width="11.86" height="18.5" fill="#A89462"/>
<rect x="1521.49" y="735.0" width="11.86" height="10.5" fill="#8A7644"/>
<rect x="1521.49" y="745.2" width="11.86" height="58.3" fill="#A6B984"/>
<rect x="1521.49" y="803.2" width="11.86" height="15.1" fill="#A89462"/>
<rect x="1521.49" y="818.0" width="11.86" height="83.3" fill="#A8A8A8"/>
<rect x="1521.49" y="900.9" width="11.86" height="57.2" fill="#C8C8C8"/>
<rect x="1535.35" y="514.2" width="11.86" height="9.7" fill="#946086"/>
<rect x="1535.35" y="523.6" width="11.86" height="11.7" fill="#B080A6"/>
<rect x="1535.35" y="535.0" width="11.86" height="344.6" fill="#A8A8A8"/>
<rect x="1535.35" y="879.3" width="11.86" height="78.8" fill="#C8C8C8"/>
<rect x="1549.20" y="514.2" width="11.86" height="50.6" fill="#946086"/>
<rect x="1549.20" y="564.5" width="11.86" height="40.1" fill="#A67098"/>
<rect x="1549.20" y="604.3" width="11.86" height="17.3" fill="#64B4A6"/>
<rect x="1549.20" y="621.4" width="11.86" height="18.5" fill="#489688"/>
<rect x="1549.20" y="639.5" width="11.86" height="4.8" fill="#C8C8C8"/>
<rect x="1549.20" y="644.1" width="11.86" height="4.8" fill="#3C50A4"/>
<rect x="1549.20" y="648.6" width="11.86" height="11.7" fill="#9EB644"/>
<rect x="1549.20" y="660.0" width="11.86" height="9.4" fill="#A89462"/>
<rect x="1549.20" y="669.1" width="11.86" height="150.3" fill="#A8A8A8"/>
<rect x="1549.20" y="819.1" width="11.86" height="51.4" fill="#C8C8C8"/>
<rect x="1549.20" y="870.2" width="11.86" height="10.5" fill="#A8A8A8"/>
<rect x="1549.20" y="880.5" width="11.86" height="77.6" fill="#C8C8C8"/>
<rect x="1563.06" y="514.2" width="11.86" height="8.6" fill="#B080A6"/>
<rect x="1563.06" y="522.5" width="11.86" height="7.1" fill="#64B4A6"/>
<rect x="1563.06" y="529.3" width="11.86" height="6.0" fill="#EEA8A2"/>
<rect x="1563.06" y="535.0" width="11.86" height="6.7" fill="#C8C8C8"/>
<rect x="1563.06" y="541.4" width="11.86" height="18.9" fill="#FF3333"/>
<rect x="1563.06" y="560.0" width="11.86" height="398.1" fill="#CC0000"/>
<rect x="1576.91" y="514.2" width="11.86" height="6.3" fill="#FF3333"/>
<rect x="1576.91" y="520.2" width="11.86" height="437.9" fill="#CC0000"/>
</g>
<g stroke="#222" stroke-width="1.3">
<line x1="169.6" y1="959" x2="169.6" y2="963.2"/>
<line x1="183.5" y1="959" x2="183.5" y2="963.2"/>
<line x1="197.3" y1="959" x2="197.3" y2="963.2"/>
<line x1="211.2" y1="959" x2="211.2" y2="963.2"/>
<line x1="225.0" y1="959" x2="225.0" y2="963.2"/>
<line x1="238.9" y1="959" x2="238.9" y2="963.2"/>
<line x1="252.8" y1="959" x2="252.8" y2="963.2"/>
<line x1="266.6" y1="959" x2="266.6" y2="963.2"/>
<line x1="280.5" y1="959" x2="280.5" y2="963.2"/>
<line x1="294.3" y1="959" x2="294.3" y2="963.2"/>
<line x1="308.2" y1="959" x2="308.2" y2="963.2"/>
<line x1="322.0" y1="959" x2="322.0" y2="963.2"/>
<line x1="335.9" y1="959" x2="335.9" y2="963.2"/>
<line x1="349.7" y1="959" x2="349.7" y2="963.2"/>
<line x1="363.6" y1="959" x2="363.6" y2="963.2"/>
<line x1="377.5" y1="959" x2="377.5" y2="963.2"/>
<line x1="391.3" y1="959" x2="391.3" y2="963.2"/>
<line x1="405.2" y1="959" x2="405.2" y2="963.2"/>
<line x1="419.0" y1="959" x2="419.0" y2="963.2"/>
<line x1="432.9" y1="959" x2="432.9" y2="963.2"/>
<line x1="446.7" y1="959" x2="446.7" y2="963.2"/>
<line x1="460.6" y1="959" x2="460.6" y2="963.2"/>
<line x1="474.4" y1="959" x2="474.4" y2="963.2"/>
<line x1="488.3" y1="959" x2="488.3" y2="963.2"/>
<line x1="502.1" y1="959" x2="502.1" y2="963.2"/>
<line x1="516.0" y1="959" x2="516.0" y2="963.2"/>
<line x1="529.9" y1="959" x2="529.9" y2="963.2"/>
<line x1="543.7" y1="959" x2="543.7" y2="963.2"/>
<line x1="557.6" y1="959" x2="557.6" y2="963.2"/>
<line x1="571.4" y1="959" x2="571.4" y2="963.2"/>
<line x1="585.3" y1="959" x2="585.3" y2="963.2"/>
<line x1="599.1" y1="959" x2="599.1" y2="963.2"/>
<line x1="613.0" y1="959" x2="613.0" y2="963.2"/>
<line x1="626.8" y1="959" x2="626.8" y2="963.2"/>
<line x1="640.7" y1="959" x2="640.7" y2="963.2"/>
<line x1="654.6" y1="959" x2="654.6" y2="963.2"/>
<line x1="668.4" y1="959" x2="668.4" y2="963.2"/>
<line x1="682.3" y1="959" x2="682.3" y2="963.2"/>
<line x1="696.1" y1="959" x2="696.1" y2="963.2"/>
<line x1="710.0" y1="959" x2="710.0" y2="963.2"/>
<line x1="723.8" y1="959" x2="723.8" y2="963.2"/>
<line x1="737.7" y1="959" x2="737.7" y2="963.2"/>
<line x1="751.5" y1="959" x2="751.5" y2="963.2"/>
<line x1="765.4" y1="959" x2="765.4" y2="963.2"/>
<line x1="779.2" y1="959" x2="779.2" y2="963.2"/>
<line x1="793.1" y1="959" x2="793.1" y2="963.2"/>
<line x1="807.0" y1="959" x2="807.0" y2="963.2"/>
<line x1="820.8" y1="959" x2="820.8" y2="963.2"/>
<line x1="834.7" y1="959" x2="834.7" y2="963.2"/>
<line x1="848.5" y1="959" x2="848.5" y2="963.2"/>
<line x1="862.4" y1="959" x2="862.4" y2="963.2"/>
<line x1="876.2" y1="959" x2="876.2" y2="963.2"/>
<line x1="890.1" y1="959" x2="890.1" y2="963.2"/>
<line x1="903.9" y1="959" x2="903.9" y2="963.2"/>
<line x1="917.8" y1="959" x2="917.8" y2="963.2"/>
<line x1="931.7" y1="959" x2="931.7" y2="963.2"/>
<line x1="945.5" y1="959" x2="945.5" y2="963.2"/>
<line x1="959.4" y1="959" x2="959.4" y2="963.2"/>
<line x1="973.2" y1="959" x2="973.2" y2="963.2"/>
<line x1="987.1" y1="959" x2="987.1" y2="963.2"/>
<line x1="1000.9" y1="959" x2="1000.9" y2="963.2"/>
<line x1="1014.8" y1="959" x2="1014.8" y2="963.2"/>
<line x1="1028.6" y1="959" x2="1028.6" y2="963.2"/>
<line x1="1042.5" y1="959" x2="1042.5" y2="963.2"/>
<line x1="1056.3" y1="959" x2="1056.3" y2="963.2"/>
<line x1="1070.2" y1="959" x2="1070.2" y2="963.2"/>
<line x1="1084.1" y1="959" x2="1084.1" y2="963.2"/>
<line x1="1097.9" y1="959" x2="1097.9" y2="963.2"/>
<line x1="1111.8" y1="959" x2="1111.8" y2="963.2"/>
<line x1="1125.6" y1="959" x2="1125.6" y2="963.2"/>
<line x1="1139.5" y1="959" x2="1139.5" y2="963.2"/>
<line x1="1153.3" y1="959" x2="1153.3" y2="963.2"/>
<line x1="1167.2" y1="959" x2="1167.2" y2="963.2"/>
<line x1="1181.0" y1="959" x2="1181.0" y2="963.2"/>
<line x1="1194.9" y1="959" x2="1194.9" y2="963.2"/>
<line x1="1208.8" y1="959" x2="1208.8" y2="963.2"/>
<line x1="1222.6" y1="959" x2="1222.6" y2="963.2"/>
<line x1="1236.5" y1="959" x2="1236.5" y2="963.2"/>
<line x1="1250.3" y1="959" x2="1250.3" y2="963.2"/>
<line x1="1264.2" y1="959" x2="1264.2" y2="963.2"/>
<line x1="1278.0" y1="959" x2="1278.0" y2="963.2"/>
<line x1="1291.9" y1="959" x2="1291.9" y2="963.2"/>
<line x1="1305.7" y1="959" x2="1305.7" y2="963.2"/>
<line x1="1319.6" y1="959" x2="1319.6" y2="963.2"/>
<line x1="1333.4" y1="959" x2="1333.4" y2="963.2"/>
<line x1="1347.3" y1="959" x2="1347.3" y2="963.2"/>
<line x1="1361.2" y1="959" x2="1361.2" y2="963.2"/>
<line x1="1375.0" y1="959" x2="1375.0" y2="963.2"/>
<line x1="1388.9" y1="959" x2="1388.9" y2="963.2"/>
<line x1="1402.7" y1="959" x2="1402.7" y2="963.2"/>
<line x1="1416.6" y1="959" x2="1416.6" y2="963.2"/>
<line x1="1430.4" y1="959" x2="1430.4" y2="963.2"/>
<line x1="1444.3" y1="959" x2="1444.3" y2="963.2"/>
<line x1="1458.1" y1="959" x2="1458.1" y2="963.2"/>
<line x1="1472.0" y1="959" x2="1472.0" y2="963.2"/>
<line x1="1485.9" y1="959" x2="1485.9" y2="963.2"/>
<line x1="1499.7" y1="959" x2="1499.7" y2="963.2"/>
<line x1="1513.6" y1="959" x2="1513.6" y2="963.2"/>
<line x1="1527.4" y1="959" x2="1527.4" y2="963.2"/>
<line x1="1541.3" y1="959" x2="1541.3" y2="963.2"/>
<line x1="1555.1" y1="959" x2="1555.1" y2="963.2"/>
<line x1="1569.0" y1="959" x2="1569.0" y2="963.2"/>
<line x1="1582.8" y1="959" x2="1582.8" y2="963.2"/>
</g>
<text x="-0.5" y="37" font-size="46.5">a</text>
<text transform="translate(36.2,271.5) rotate(-90)" font-size="34.3" text-anchor="middle" font-style="italic">S. cerevisiae</text>
<text transform="translate(77.5,273.5) rotate(-90)" font-size="34" text-anchor="middle" word-spacing="9">relative abundance</text>
<text transform="translate(37,741.5) rotate(-90)" font-size="34" text-anchor="middle">Bacterial 16S</text>
<text transform="translate(77.8,738) rotate(-90)" font-size="34" text-anchor="middle" word-spacing="9">relative abundance</text>
<rect x="1120.7" y="89.7" width="37.7" height="26.2" fill="#EEA8A2"/>
<rect x="1158.0" y="89.7" width="38.6" height="26.2" fill="#EC9A95"/>
<rect x="1196.2" y="89.7" width="37.2" height="26.2" fill="#D28882"/>
<text x="1240" y="111.8" font-size="25.7"><tspan font-style="italic">Lachnospiraceae</tspan> (family)</text>
<rect x="1120.7" y="119.2" width="37.7" height="26.2" fill="#A6B984"/>
<rect x="1158.0" y="119.2" width="38.6" height="26.2" fill="#9BAE72"/>
<rect x="1196.2" y="119.2" width="37.2" height="26.2" fill="#899B64"/>
<text x="1240" y="141.2" font-size="25.7"><tspan font-style="italic">Ruminococcaceae</tspan> (family)</text>
<rect x="1120.7" y="148.6" width="37.7" height="26.2" fill="#A89462"/>
<rect x="1158.0" y="148.6" width="38.6" height="26.2" fill="#9E8852"/>
<rect x="1196.2" y="148.6" width="37.6" height="26.2" fill="#8A7644"/>
<text x="1240" y="170.7" font-size="25.7">Other <tspan font-style="italic">Clostridia</tspan> (class)</text>
<rect x="1120.7" y="178.1" width="37.7" height="26.2" fill="#64B4A6"/>
<rect x="1158.0" y="178.1" width="38.6" height="26.2" fill="#50AC9E"/>
<rect x="1196.2" y="178.1" width="37.2" height="26.2" fill="#489688"/>
<text x="1240" y="200.2" font-size="25.7"><tspan font-style="italic">Bacteroidetes</tspan> (phylum)</text>
<rect x="1120.7" y="207.5" width="37.7" height="26.2" fill="#B080A6"/>
<rect x="1158.0" y="207.5" width="38.6" height="26.2" fill="#A67098"/>
<rect x="1196.2" y="207.5" width="37.2" height="26.2" fill="#946086"/>
<text x="1240" y="229.6" font-size="25.7"><tspan font-style="italic">Actinobacteria</tspan> (phylum)</text>
<rect x="1120.7" y="236.9" width="37.7" height="26.2" fill="#FF3333"/>
<rect x="1158.0" y="236.9" width="38.6" height="26.2" fill="#FF0000"/>
<rect x="1196.2" y="236.9" width="37.2" height="26.2" fill="#CC0000"/>
<text x="1240" y="259.1" font-size="25.7"><tspan font-style="italic">Proteobacteria</tspan> (phylum)</text>
<rect x="1120.7" y="266.4" width="113.3" height="26.2" fill="#149448"/>
<text x="1240" y="288.5" font-size="25.7"><tspan font-style="italic">Enterococcus</tspan> (genus)</text>
<rect x="1120.7" y="295.9" width="113.3" height="26.2" fill="#F2E824"/>
<text x="1240" y="318.0" font-size="25.7"><tspan font-style="italic">Staphylococcus</tspan> (genus)</text>
<rect x="1120.7" y="325.3" width="113.3" height="26.2" fill="#9EB644"/>
<text x="1240" y="347.4" font-size="25.7"><tspan font-style="italic">Streptococcus</tspan> (genus)</text>
<rect x="1120.7" y="354.8" width="113.3" height="26.2" fill="#3C50A4"/>
<text x="1240" y="376.9" font-size="25.7"><tspan font-style="italic">Lactobacillus</tspan> (genus)</text>
<rect x="1120.7" y="384.2" width="37.7" height="26.2" fill="#C8C8C8"/>
<rect x="1158.0" y="384.2" width="38.6" height="26.2" fill="#BEBEBE"/>
<rect x="1196.2" y="384.2" width="37.2" height="26.2" fill="#A8A8A8"/>
<text x="1240" y="406.3" font-size="25.7">Other bacteria (kingdom)</text>
<text x="1632" y="35.5" font-size="48">b</text>
<text x="1925.5" y="31.3" font-size="29.5" text-anchor="middle">ns</text>
<path d="M1746.1 40V402.9H2107.8" stroke="#000" stroke-width="2.0" fill="none"/>
<line x1="1742" y1="41.6" x2="1746" y2="41.6" stroke="#000" stroke-width="2.0"/>
<text x="1732.3" y="50.6" font-size="30" text-anchor="end">11</text>
<line x1="1742" y1="135.4" x2="1746" y2="135.4" stroke="#000" stroke-width="2.0"/>
<text x="1732.3" y="144.4" font-size="30" text-anchor="end">8</text>
<line x1="1742" y1="229.0" x2="1746" y2="229.0" stroke="#000" stroke-width="2.0"/>
<text x="1732.3" y="238.0" font-size="30" text-anchor="end">5</text>
<line x1="1742" y1="322.5" x2="1746" y2="322.5" stroke="#000" stroke-width="2.0"/>
<text x="1732.3" y="331.5" font-size="30" text-anchor="end">2</text>
<line x1="1842.9" y1="402.9" x2="1842.9" y2="407.8" stroke="#000" stroke-width="2.6"/>
<line x1="2014.9" y1="402.9" x2="2014.9" y2="407.8" stroke="#000" stroke-width="2.6"/>
<g stroke="#000" stroke-width="2.0" fill="none"><rect x="1774.5" y="129.9" width="137.5" height="54.8"/><line x1="1774.5" y1="150.0" x2="1912" y2="150.0"/><line x1="1774.5" y1="49.9" x2="1912" y2="49.9"/><line x1="1774.5" y1="263.9" x2="1912" y2="263.9"/><line x1="1842.9" y1="49.9" x2="1842.9" y2="129.9"/><line x1="1842.9" y1="184.7" x2="1842.9" y2="263.9"/></g>
<g stroke="#000" stroke-width="2.0" fill="none"><rect x="1946" y="148.4" width="138.2" height="21.1"/><line x1="1946" y1="157.9" x2="2084.2" y2="157.9"/><line x1="1946" y1="128.4" x2="2084.2" y2="128.4"/><line x1="1946" y1="200.8" x2="2084.2" y2="200.8"/><line x1="2014.9" y1="128.4" x2="2014.9" y2="148.4"/><line x1="2014.9" y1="169.5" x2="2014.9" y2="200.8"/></g>
<g fill="#000">
<circle cx="1813.5" cy="50.3" r="4.6"/>
<circle cx="1801.6" cy="81.4" r="4.6"/>
<circle cx="1858.1" cy="89.7" r="4.6"/>
<circle cx="1836.5" cy="98.0" r="4.6"/>
<circle cx="1866.9" cy="111.1" r="4.6"/>
<circle cx="1819.9" cy="114.4" r="4.6"/>
<circle cx="1796.1" cy="116.3" r="4.6"/>
<circle cx="1805.9" cy="121.1" r="4.6"/>
<circle cx="1847.2" cy="119.9" r="4.6"/>
<circle cx="1861.7" cy="118.7" r="4.6"/>
<circle cx="1887.5" cy="121.1" r="4.6"/>
<circle cx="1834.4" cy="124.6" r="4.6"/>
<circle cx="1843.2" cy="124.6" r="4.6"/>
<circle cx="1856.7" cy="124.6" r="4.6"/>
<circle cx="1878.8" cy="125.8" r="4.6"/>
<circle cx="1810.6" cy="130.1" r="4.6"/>
<circle cx="1809.9" cy="135.3" r="4.6"/>
<circle cx="1843.2" cy="130.6" r="4.6"/>
<circle cx="1847.9" cy="135.3" r="4.6"/>
<circle cx="1857.4" cy="132.9" r="4.6"/>
<circle cx="1858.1" cy="136.5" r="4.6"/>
<circle cx="1881.1" cy="131.0" r="4.6"/>
<circle cx="1885.4" cy="138.2" r="4.6"/>
<circle cx="1866.9" cy="140.1" r="4.6"/>
<circle cx="1862.1" cy="138.9" r="4.6"/>
<circle cx="1840.8" cy="140.5" r="4.6"/>
<circle cx="1797.3" cy="150.3" r="4.6"/>
<circle cx="1823.4" cy="148.8" r="4.6"/>
<circle cx="1831.3" cy="149.6" r="4.6"/>
<circle cx="1837.2" cy="150.3" r="4.6"/>
<circle cx="1862.1" cy="148.8" r="4.6"/>
<circle cx="1842.0" cy="154.3" r="4.6"/>
<circle cx="1872.4" cy="159.5" r="4.6"/>
<circle cx="1839.6" cy="162.6" r="4.6"/>
<circle cx="1840.1" cy="166.9" r="4.6"/>
<circle cx="1891.8" cy="167.4" r="4.6"/>
<circle cx="1799.2" cy="168.5" r="4.6"/>
<circle cx="1863.3" cy="168.1" r="4.6"/>
<circle cx="1828.4" cy="171.6" r="4.6"/>
<circle cx="1889.4" cy="172.1" r="4.6"/>
<circle cx="1889.0" cy="176.9" r="4.6"/>
<circle cx="1873.5" cy="176.1" r="4.6"/>
<circle cx="1798.0" cy="181.6" r="4.6"/>
<circle cx="1795.2" cy="185.2" r="4.6"/>
<circle cx="1866.9" cy="185.9" r="4.6"/>
<circle cx="1880.4" cy="184.7" r="4.6"/>
<circle cx="1881.1" cy="191.1" r="4.6"/>
<circle cx="1826.1" cy="189.9" r="4.6"/>
<circle cx="1815.4" cy="192.3" r="4.6"/>
<circle cx="1843.2" cy="191.3" r="4.6"/>
<circle cx="1851.9" cy="196.6" r="4.6"/>
<circle cx="1889.9" cy="196.3" r="4.6"/>
<circle cx="1800.4" cy="206.5" r="4.6"/>
<circle cx="2048.0" cy="116.3" r="4.6"/>
<circle cx="2044.9" cy="128.9" r="4.6"/>
<circle cx="1999.1" cy="134.8" r="4.6"/>
<circle cx="1990.8" cy="137.7" r="4.6"/>
<circle cx="2003.9" cy="143.1" r="4.6"/>
<circle cx="2013.4" cy="142.4" r="4.6"/>
<circle cx="2033.1" cy="145.3" r="4.6"/>
<circle cx="2020.0" cy="148.8" r="4.6"/>
<circle cx="2025.9" cy="151.9" r="4.6"/>
<circle cx="2021.2" cy="154.3" r="4.6"/>
<circle cx="2044.2" cy="150.0" r="4.6"/>
<circle cx="2048.5" cy="156.0" r="4.6"/>
<circle cx="1971.3" cy="156.0" r="4.6"/>
<circle cx="1999.1" cy="157.2" r="4.6"/>
<circle cx="2002.2" cy="157.9" r="4.6"/>
<circle cx="2035.4" cy="158.3" r="4.6"/>
<circle cx="2018.3" cy="159.5" r="4.6"/>
<circle cx="2048.5" cy="163.8" r="4.6"/>
<circle cx="2002.2" cy="163.8" r="4.6"/>
<circle cx="2008.6" cy="167.4" r="4.6"/>
<circle cx="2040.2" cy="167.4" r="4.6"/>
<circle cx="1988.7" cy="169.7" r="4.6"/>
<circle cx="2034.3" cy="175.7" r="4.6"/>
<circle cx="2026.7" cy="179.7" r="4.6"/>
<circle cx="1981.6" cy="191.8" r="4.6"/>
<circle cx="1975.6" cy="198.2" r="4.6"/>
<circle cx="2023.6" cy="201.1" r="4.6"/>
<circle cx="1977.5" cy="207.2" r="4.6"/>
<circle cx="1861.0" cy="228.6" r="4.6"/>
<circle cx="1881.8" cy="236.4" r="4.6"/>
<circle cx="1878.8" cy="249.9" r="4.6"/>
<circle cx="1889.0" cy="263.7" r="4.6"/>
<circle cx="1888.3" cy="268.9" r="4.6"/>
<circle cx="1837.2" cy="273.7" r="4.6"/>
<circle cx="1873.5" cy="273.7" r="4.6"/>
<circle cx="2014.1" cy="239.7" r="4.6"/>
</g>
<text x="1850.3" y="434.3" font-size="30" text-anchor="middle">Low</text>
<text x="2013.3" y="434.3" font-size="30" text-anchor="middle">High</text>
<line x1="1820.4" y1="444.8" x2="2038.3" y2="444.8" stroke="#000" stroke-width="2.0"/>
<text x="1739" y="469.7" font-size="29.85" font-style="italic">Saccharomyces cerevisiae</text>
<text transform="translate(1682.6,226) rotate(-90)" font-size="29.5" text-anchor="middle">Log<tspan font-size="18" dy="10">10</tspan><tspan dy="-10">(16S copies)</tspan></text>
<text x="1633" y="520" font-size="48">c</text>
<text x="1925.5" y="537.5" font-size="29.5" text-anchor="middle">ns</text>
<path d="M1748 533.5V917H2106.8" stroke="#000" stroke-width="2.0" fill="none"/>
<line x1="1743.3" y1="534.6" x2="1748" y2="534.6" stroke="#000" stroke-width="2.0"/>
<text x="1735.5" y="542.1" font-size="30" text-anchor="end">25</text>
<line x1="1743.3" y1="610.6" x2="1748" y2="610.6" stroke="#000" stroke-width="2.0"/>
<text x="1735.5" y="618.1" font-size="30" text-anchor="end">20</text>
<line x1="1743.3" y1="687.0" x2="1748" y2="687.0" stroke="#000" stroke-width="2.0"/>
<text x="1735.5" y="694.5" font-size="30" text-anchor="end">15</text>
<line x1="1743.3" y1="763.2" x2="1748" y2="763.2" stroke="#000" stroke-width="2.0"/>
<text x="1735.5" y="770.7" font-size="30" text-anchor="end">10</text>
<line x1="1743.3" y1="839.5" x2="1748" y2="839.5" stroke="#000" stroke-width="2.0"/>
<text x="1735.5" y="847.0" font-size="30" text-anchor="end">5</text>
<line x1="1844.2" y1="917" x2="1844.2" y2="922" stroke="#000" stroke-width="2.6"/>
<line x1="2016" y1="917" x2="2016" y2="922" stroke="#000" stroke-width="2.6"/>
<g stroke="#000" stroke-width="2.0" fill="none"><rect x="1775.5" y="742.3" width="138.1" height="135.1"/><line x1="1775.5" y1="837.5" x2="1913.6" y2="837.5"/><line x1="1775.5" y1="559.3" x2="1913.6" y2="559.3"/><line x1="1775.5" y1="900.2" x2="1913.6" y2="900.2"/><line x1="1844.2" y1="559.3" x2="1844.2" y2="742.3"/><line x1="1844.2" y1="877.4" x2="1844.2" y2="900.2"/></g>
<g stroke="#000" stroke-width="2.0" fill="none"><rect x="1947.1" y="789.6" width="137.7" height="63.6"/><line x1="1947.1" y1="826.6" x2="2084.8" y2="826.6"/><line x1="1947.1" y1="741.1" x2="2084.8" y2="741.1"/><line x1="1947.1" y1="891.7" x2="2084.8" y2="891.7"/><line x1="2016" y1="741.1" x2="2016" y2="789.6"/><line x1="2016" y1="853.2" x2="2016" y2="891.7"/></g>
<g fill="#000">
<circle cx="1875.2" cy="559.8" r="4.6"/>
<circle cx="1857.9" cy="583.6" r="4.6"/>
<circle cx="1863.3" cy="594.2" r="4.6"/>
<circle cx="1837.9" cy="621.5" r="4.6"/>
<circle cx="1879.5" cy="630.6" r="4.6"/>
<circle cx="1849.8" cy="642.4" r="4.6"/>
<circle cx="1795.7" cy="647.4" r="4.6"/>
<circle cx="1887.5" cy="667.6" r="4.6"/>
<circle cx="1862.6" cy="692.3" r="4.6"/>
<circle cx="1797.3" cy="695.1" r="4.6"/>
<circle cx="1840.8" cy="700.6" r="4.6"/>
<circle cx="1823.2" cy="702.5" r="4.6"/>
<circle cx="1861.0" cy="718.4" r="4.6"/>
<circle cx="2005.3" cy="651.5" r="4.6"/>
<circle cx="1809.9" cy="726.2" r="4.6"/>
<circle cx="1868.1" cy="725.0" r="4.6"/>
<circle cx="1813.5" cy="734.0" r="4.6"/>
<circle cx="1842.0" cy="736.4" r="4.6"/>
<circle cx="1861.7" cy="741.1" r="4.6"/>
<circle cx="1891.8" cy="744.0" r="4.6"/>
<circle cx="1812.3" cy="746.4" r="4.6"/>
<circle cx="1828.9" cy="747.1" r="4.6"/>
<circle cx="1861.4" cy="771.8" r="4.6"/>
<circle cx="1811.6" cy="779.1" r="4.6"/>
<circle cx="1847.9" cy="782.4" r="4.6"/>
<circle cx="1841.5" cy="791.0" r="4.6"/>
<circle cx="1827.7" cy="802.9" r="4.6"/>
<circle cx="1875.2" cy="805.7" r="4.6"/>
<circle cx="1888.3" cy="806.9" r="4.6"/>
<circle cx="1886.6" cy="810.5" r="4.6"/>
<circle cx="1804.0" cy="810.9" r="4.6"/>
<circle cx="1868.6" cy="812.4" r="4.6"/>
<circle cx="1832.0" cy="819.5" r="4.6"/>
<circle cx="1858.1" cy="821.6" r="4.6"/>
<circle cx="1815.9" cy="833.5" r="4.6"/>
<circle cx="1875.9" cy="832.5" r="4.6"/>
<circle cx="1835.3" cy="837.5" r="4.6"/>
<circle cx="1853.8" cy="840.8" r="4.6"/>
<circle cx="1892.5" cy="842.5" r="4.6"/>
<circle cx="1843.9" cy="843.7" r="4.6"/>
<circle cx="1885.9" cy="845.6" r="4.6"/>
<circle cx="1828.9" cy="847.3" r="4.6"/>
<circle cx="1851.5" cy="847.7" r="4.6"/>
<circle cx="1800.9" cy="850.1" r="4.6"/>
<circle cx="1819.4" cy="850.1" r="4.6"/>
<circle cx="1815.1" cy="854.4" r="4.6"/>
<circle cx="1836.0" cy="853.9" r="4.6"/>
<circle cx="1821.8" cy="855.6" r="4.6"/>
<circle cx="1826.5" cy="858.4" r="4.6"/>
<circle cx="1812.8" cy="866.2" r="4.6"/>
<circle cx="1846.7" cy="867.4" r="4.6"/>
<circle cx="1885.4" cy="869.1" r="4.6"/>
<circle cx="1844.3" cy="872.7" r="4.6"/>
<circle cx="1842.7" cy="876.9" r="4.6"/>
<circle cx="1874.7" cy="880.5" r="4.6"/>
<circle cx="1839.6" cy="884.1" r="4.6"/>
<circle cx="1862.1" cy="884.1" r="4.6"/>
<circle cx="1805.9" cy="887.6" r="4.6"/>
<circle cx="1866.9" cy="888.3" r="4.6"/>
<circle cx="1824.6" cy="890.0" r="4.6"/>
<circle cx="1808.7" cy="891.7" r="4.6"/>
<circle cx="1836.0" cy="891.2" r="4.6"/>
<circle cx="1875.2" cy="893.5" r="4.6"/>
<circle cx="1823.0" cy="894.0" r="4.6"/>
<circle cx="1835.6" cy="896.4" r="4.6"/>
<circle cx="1807.5" cy="900.2" r="4.6"/>
<circle cx="1817.0" cy="900.7" r="4.6"/>
<circle cx="1826.5" cy="900.2" r="4.6"/>
<circle cx="1864.0" cy="900.2" r="4.6"/>
<circle cx="1875.9" cy="898.3" r="4.6"/>
<circle cx="1879.9" cy="900.7" r="4.6"/>
<circle cx="1999.8" cy="741.1" r="4.6"/>
<circle cx="1980.1" cy="746.8" r="4.6"/>
<circle cx="2033.8" cy="753.0" r="4.6"/>
<circle cx="2021.2" cy="760.6" r="4.6"/>
<circle cx="2004.6" cy="774.4" r="4.6"/>
<circle cx="2049.2" cy="782.0" r="4.6"/>
<circle cx="2046.8" cy="785.5" r="4.6"/>
<circle cx="2049.2" cy="791.5" r="4.6"/>
<circle cx="1978.9" cy="800.3" r="4.6"/>
<circle cx="2044.5" cy="801.4" r="4.6"/>
<circle cx="2018.8" cy="806.4" r="4.6"/>
<circle cx="1988.2" cy="817.1" r="4.6"/>
<circle cx="2034.3" cy="816.4" r="4.6"/>
<circle cx="2031.4" cy="819.2" r="4.6"/>
<circle cx="1993.2" cy="825.9" r="4.6"/>
<circle cx="2056.8" cy="827.8" r="4.6"/>
<circle cx="2064.4" cy="835.4" r="4.6"/>
<circle cx="2062.7" cy="841.3" r="4.6"/>
<circle cx="2026.7" cy="842.5" r="4.6"/>
<circle cx="2030.2" cy="844.4" r="4.6"/>
<circle cx="2025.5" cy="846.1" r="4.6"/>
<circle cx="2054.4" cy="846.5" r="4.6"/>
<circle cx="2002.7" cy="852.5" r="4.6"/>
<circle cx="2031.9" cy="857.2" r="4.6"/>
<circle cx="2028.3" cy="862.7" r="4.6"/>
<circle cx="1997.0" cy="869.3" r="4.6"/>
<circle cx="1984.9" cy="872.9" r="4.6"/>
<circle cx="2035.4" cy="878.1" r="4.6"/>
<circle cx="2047.8" cy="884.5" r="4.6"/>
<circle cx="1967.8" cy="886.9" r="4.6"/>
<circle cx="1973.7" cy="891.7" r="4.6"/>
</g>
<text x="1844.2" y="948.6" font-size="30" text-anchor="middle">Low</text>
<text x="2013.4" y="948.6" font-size="30" text-anchor="middle">High</text>
<line x1="1820.5" y1="958.8" x2="2038.6" y2="958.8" stroke="#000" stroke-width="2.0"/>
<text x="1739" y="982.5" font-size="29.85" font-style="italic">Saccharomyces cerevisiae</text>
<text transform="translate(1683.6,719.5) rotate(-90)" font-size="28.8" text-anchor="middle">16S diversity (Inv. Simpson)</text>
</svg>
</body></html>
